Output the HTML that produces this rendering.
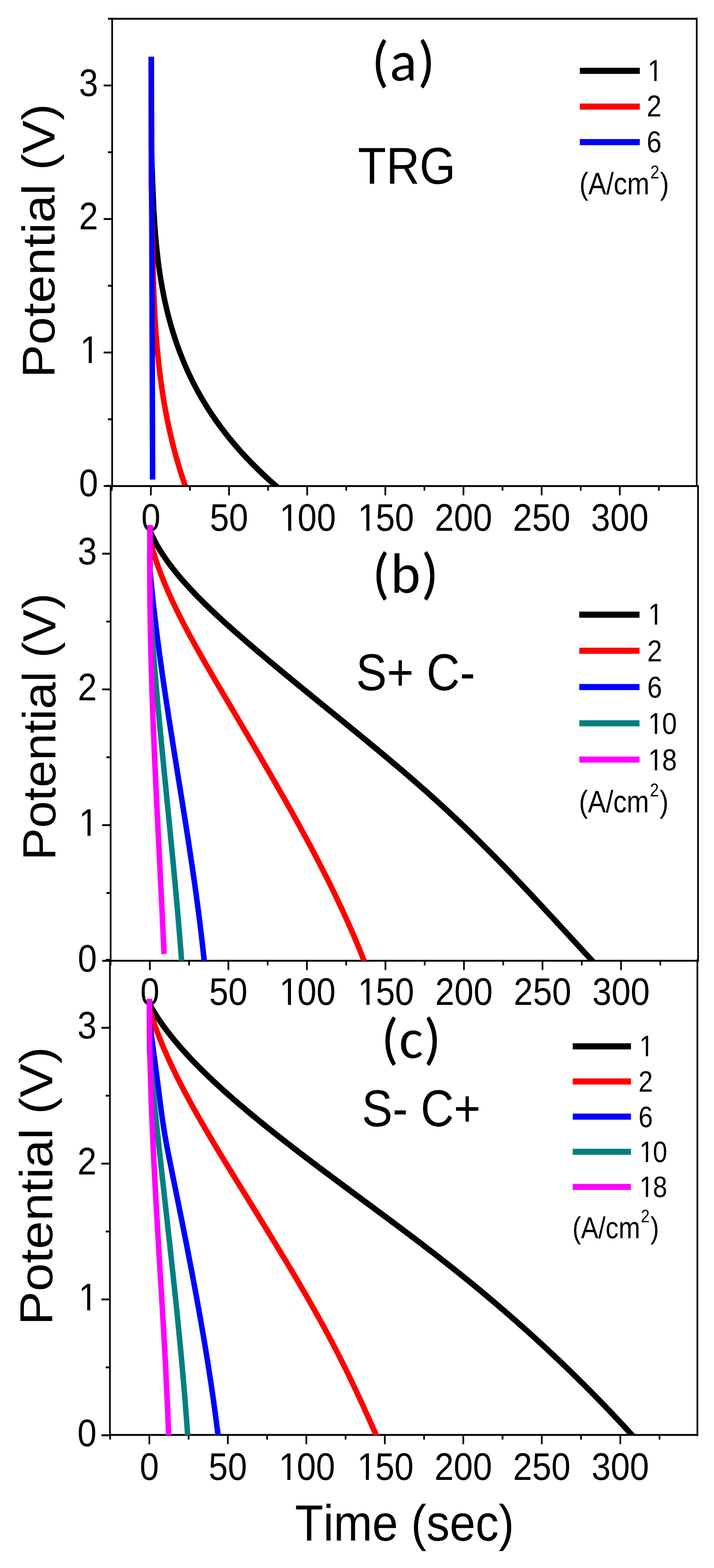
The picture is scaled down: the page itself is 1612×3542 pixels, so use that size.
<!DOCTYPE html><html><head><meta charset="utf-8"><title>Galvanostatic discharge curves</title><style>html,body{margin:0;padding:0;background:#fff;}svg{display:block;}text{font-family:"Liberation Sans",Arial,Helvetica,sans-serif;fill:#000;font-kerning:none;text-rendering:geometricPrecision;}.cal{font-family:Carlito,Calibri,"Liberation Sans",sans-serif;}</style></head><body>
<svg width="1612" height="3542" viewBox="0 0 1612 3542">
<rect width="1612" height="3542" fill="#fff"/>
<g fill="#000">
<rect x="251.30" y="40.30" width="3.8" height="1059.80"/>
<rect x="1571.10" y="40.30" width="3.8" height="1059.80"/>
<rect x="251.30" y="40.30" width="1323.60" height="4.2"/>
<rect x="251.30" y="1095.90" width="1323.60" height="4.2"/>
<rect x="234.00" y="1095.80" width="19.20" height="4.2"/>
<rect x="243.70" y="945.00" width="9.50" height="4.2"/>
<rect x="234.00" y="794.20" width="19.20" height="4.2"/>
<rect x="243.70" y="643.40" width="9.50" height="4.2"/>
<rect x="234.00" y="492.60" width="19.20" height="4.2"/>
<rect x="243.70" y="341.80" width="9.50" height="4.2"/>
<rect x="234.00" y="191.00" width="19.20" height="4.2"/>
<rect x="243.70" y="40.20" width="9.50" height="4.2"/>
<rect x="250.48" y="1098.00" width="3.8" height="10.50"/>
<rect x="338.70" y="1098.00" width="3.8" height="21.00"/>
<rect x="426.93" y="1098.00" width="3.8" height="10.50"/>
<rect x="515.15" y="1098.00" width="3.8" height="21.00"/>
<rect x="603.38" y="1098.00" width="3.8" height="10.50"/>
<rect x="691.60" y="1098.00" width="3.8" height="21.00"/>
<rect x="779.83" y="1098.00" width="3.8" height="10.50"/>
<rect x="868.05" y="1098.00" width="3.8" height="21.00"/>
<rect x="956.27" y="1098.00" width="3.8" height="10.50"/>
<rect x="1044.50" y="1098.00" width="3.8" height="21.00"/>
<rect x="1132.72" y="1098.00" width="3.8" height="10.50"/>
<rect x="1220.95" y="1098.00" width="3.8" height="21.00"/>
<rect x="1309.17" y="1098.00" width="3.8" height="10.50"/>
<rect x="1397.40" y="1098.00" width="3.8" height="21.00"/>
<rect x="1485.62" y="1098.00" width="3.8" height="10.50"/>
<rect x="247.90" y="1095.80" width="3.8" height="1076.60"/>
<rect x="1574.10" y="1095.80" width="3.8" height="1076.60"/>
<rect x="247.90" y="2168.20" width="1330.00" height="4.2"/>
<rect x="230.60" y="2168.40" width="19.20" height="4.2"/>
<rect x="240.30" y="2015.10" width="9.50" height="4.2"/>
<rect x="230.60" y="1861.80" width="19.20" height="4.2"/>
<rect x="240.30" y="1708.50" width="9.50" height="4.2"/>
<rect x="230.60" y="1555.20" width="19.20" height="4.2"/>
<rect x="240.30" y="1401.90" width="9.50" height="4.2"/>
<rect x="230.60" y="1248.60" width="19.20" height="4.2"/>
<rect x="240.30" y="1095.30" width="9.50" height="4.2"/>
<rect x="247.75" y="2170.30" width="3.8" height="10.50"/>
<rect x="336.40" y="2170.30" width="3.8" height="21.00"/>
<rect x="425.05" y="2170.30" width="3.8" height="10.50"/>
<rect x="513.70" y="2170.30" width="3.8" height="21.00"/>
<rect x="602.35" y="2170.30" width="3.8" height="10.50"/>
<rect x="691.00" y="2170.30" width="3.8" height="21.00"/>
<rect x="779.65" y="2170.30" width="3.8" height="10.50"/>
<rect x="868.30" y="2170.30" width="3.8" height="21.00"/>
<rect x="956.95" y="2170.30" width="3.8" height="10.50"/>
<rect x="1045.60" y="2170.30" width="3.8" height="21.00"/>
<rect x="1134.25" y="2170.30" width="3.8" height="10.50"/>
<rect x="1222.90" y="2170.30" width="3.8" height="21.00"/>
<rect x="1311.55" y="2170.30" width="3.8" height="10.50"/>
<rect x="1400.20" y="2170.30" width="3.8" height="21.00"/>
<rect x="1488.85" y="2170.30" width="3.8" height="10.50"/>
<rect x="246.30" y="2166.90" width="3.8" height="1076.60"/>
<rect x="1572.60" y="2166.90" width="3.8" height="1076.60"/>
<rect x="246.30" y="3239.30" width="1330.10" height="4.2"/>
<rect x="229.00" y="3240.10" width="19.20" height="4.2"/>
<rect x="238.70" y="3086.67" width="9.50" height="4.2"/>
<rect x="229.00" y="2933.25" width="19.20" height="4.2"/>
<rect x="238.70" y="2779.82" width="9.50" height="4.2"/>
<rect x="229.00" y="2626.40" width="19.20" height="4.2"/>
<rect x="238.70" y="2472.97" width="9.50" height="4.2"/>
<rect x="229.00" y="2319.55" width="19.20" height="4.2"/>
<rect x="238.70" y="2166.12" width="9.50" height="4.2"/>
<rect x="246.70" y="3241.40" width="3.8" height="10.50"/>
<rect x="335.30" y="3241.40" width="3.8" height="21.00"/>
<rect x="423.90" y="3241.40" width="3.8" height="10.50"/>
<rect x="512.50" y="3241.40" width="3.8" height="21.00"/>
<rect x="601.10" y="3241.40" width="3.8" height="10.50"/>
<rect x="689.70" y="3241.40" width="3.8" height="21.00"/>
<rect x="778.30" y="3241.40" width="3.8" height="10.50"/>
<rect x="866.90" y="3241.40" width="3.8" height="21.00"/>
<rect x="955.50" y="3241.40" width="3.8" height="10.50"/>
<rect x="1044.10" y="3241.40" width="3.8" height="21.00"/>
<rect x="1132.70" y="3241.40" width="3.8" height="10.50"/>
<rect x="1221.30" y="3241.40" width="3.8" height="21.00"/>
<rect x="1309.90" y="3241.40" width="3.8" height="10.50"/>
<rect x="1398.50" y="3241.40" width="3.8" height="21.00"/>
<rect x="1487.10" y="3241.40" width="3.8" height="10.50"/>
</g>
<text transform="translate(340.60,1198.50) scale(0.8950,1)" font-size="87" text-anchor="middle">0</text>
<text transform="translate(517.05,1198.50) scale(0.8950,1)" font-size="87" text-anchor="middle">50</text>
<text transform="translate(628.54,1198.50) scale(0.8950,1)" font-size="87" dx="2.85 -2.85 0.00">100</text>
<rect x="636.19" y="1190.40" width="14.48" height="9.30" fill="#fff"/>
<rect x="657.55" y="1190.40" width="13.87" height="9.30" fill="#fff"/>
<text transform="translate(804.99,1198.50) scale(0.8950,1)" font-size="87" dx="2.85 -2.85 0.00">150</text>
<rect x="812.64" y="1190.40" width="14.48" height="9.30" fill="#fff"/>
<rect x="834.00" y="1190.40" width="13.87" height="9.30" fill="#fff"/>
<text transform="translate(1046.40,1198.50) scale(0.8950,1)" font-size="87" text-anchor="middle">200</text>
<text transform="translate(1222.85,1198.50) scale(0.8950,1)" font-size="87" text-anchor="middle">250</text>
<text transform="translate(1399.30,1198.50) scale(0.8950,1)" font-size="87" text-anchor="middle">300</text>
<text transform="translate(221.50,1121.40) scale(0.8950,1)" font-size="87" text-anchor="end">0</text>
<text transform="translate(178.20,819.80) scale(0.8950,1)" font-size="87" dx="2.85">1</text>
<rect x="185.85" y="811.70" width="14.48" height="9.30" fill="#fff"/>
<rect x="207.20" y="811.70" width="13.87" height="9.30" fill="#fff"/>
<text transform="translate(221.50,518.20) scale(0.8950,1)" font-size="87" text-anchor="end">2</text>
<text transform="translate(221.50,216.60) scale(0.8950,1)" font-size="87" text-anchor="end">3</text>
<text transform="translate(338.30,2270.30) scale(0.8950,1)" font-size="87" text-anchor="middle">0</text>
<text transform="translate(515.60,2270.30) scale(0.8950,1)" font-size="87" text-anchor="middle">50</text>
<text transform="translate(627.94,2270.30) scale(0.8950,1)" font-size="87" dx="2.85 -2.85 0.00">100</text>
<rect x="635.59" y="2262.20" width="14.48" height="9.30" fill="#fff"/>
<rect x="656.95" y="2262.20" width="13.87" height="9.30" fill="#fff"/>
<text transform="translate(805.24,2270.30) scale(0.8950,1)" font-size="87" dx="2.85 -2.85 0.00">150</text>
<rect x="812.89" y="2262.20" width="14.48" height="9.30" fill="#fff"/>
<rect x="834.25" y="2262.20" width="13.87" height="9.30" fill="#fff"/>
<text transform="translate(1047.50,2270.30) scale(0.8950,1)" font-size="87" text-anchor="middle">200</text>
<text transform="translate(1224.80,2270.30) scale(0.8950,1)" font-size="87" text-anchor="middle">250</text>
<text transform="translate(1402.10,2270.30) scale(0.8950,1)" font-size="87" text-anchor="middle">300</text>
<text transform="translate(218.70,2195.00) scale(0.8950,1)" font-size="87" text-anchor="end">0</text>
<text transform="translate(175.40,1888.40) scale(0.8950,1)" font-size="87" dx="2.85">1</text>
<rect x="183.05" y="1880.30" width="14.48" height="9.30" fill="#fff"/>
<rect x="204.40" y="1880.30" width="13.87" height="9.30" fill="#fff"/>
<text transform="translate(218.70,1581.80) scale(0.8950,1)" font-size="87" text-anchor="end">2</text>
<text transform="translate(218.70,1275.20) scale(0.8950,1)" font-size="87" text-anchor="end">3</text>
<text transform="translate(337.20,3343.00) scale(0.8950,1)" font-size="87" text-anchor="middle">0</text>
<text transform="translate(514.40,3343.00) scale(0.8950,1)" font-size="87" text-anchor="middle">50</text>
<text transform="translate(626.64,3343.00) scale(0.8950,1)" font-size="87" dx="2.85 -2.85 0.00">100</text>
<rect x="634.29" y="3334.90" width="14.48" height="9.30" fill="#fff"/>
<rect x="655.65" y="3334.90" width="13.87" height="9.30" fill="#fff"/>
<text transform="translate(803.84,3343.00) scale(0.8950,1)" font-size="87" dx="2.85 -2.85 0.00">150</text>
<rect x="811.49" y="3334.90" width="14.48" height="9.30" fill="#fff"/>
<rect x="832.85" y="3334.90" width="13.87" height="9.30" fill="#fff"/>
<text transform="translate(1046.00,3343.00) scale(0.8950,1)" font-size="87" text-anchor="middle">200</text>
<text transform="translate(1223.20,3343.00) scale(0.8950,1)" font-size="87" text-anchor="middle">250</text>
<text transform="translate(1400.40,3343.00) scale(0.8950,1)" font-size="87" text-anchor="middle">300</text>
<text transform="translate(218.00,3266.50) scale(0.8950,1)" font-size="87" text-anchor="end">0</text>
<text transform="translate(174.70,2959.65) scale(0.8950,1)" font-size="87" dx="2.85">1</text>
<rect x="182.35" y="2951.55" width="14.48" height="9.30" fill="#fff"/>
<rect x="203.70" y="2951.55" width="13.87" height="9.30" fill="#fff"/>
<text transform="translate(218.00,2652.80) scale(0.8950,1)" font-size="87" text-anchor="end">2</text>
<text transform="translate(218.00,2345.95) scale(0.8950,1)" font-size="87" text-anchor="end">3</text>
<text transform="translate(123.30,853.40) rotate(-90) scale(1.0866,1)" font-size="103.5" text-anchor="start">Potential (V)</text>
<text transform="translate(125.40,1943.40) rotate(-90) scale(1.0443,1)" font-size="105.0" text-anchor="start">Potential (V)</text>
<text transform="translate(118.40,2993.30) rotate(-90) scale(1.0930,1)" font-size="104.5" text-anchor="start">Potential (V)</text>
<text transform="translate(666.00,3480.00) scale(0.9110,1)" font-size="115.0" text-anchor="start">Time (sec)</text>
<text class="cal" x="911.5" y="182" font-size="128.5" letter-spacing="1.9" textLength="145.19" lengthAdjust="spacingAndGlyphs" text-anchor="middle">(a)</text>
<text class="cal" x="916.5" y="1338.6" font-size="128.5" letter-spacing="2.2" textLength="152.05" lengthAdjust="spacingAndGlyphs" text-anchor="middle">(b)</text>
<text class="cal" x="929" y="2390.3" font-size="128.5" letter-spacing="1.4" textLength="136.47" lengthAdjust="spacingAndGlyphs" text-anchor="middle">(c)</text>
<text transform="translate(918.30,415.00) scale(0.8925,1)" font-size="117" text-anchor="middle">TRG</text>
<text transform="translate(938.30,1559.00) scale(0.8900,1)" font-size="117" text-anchor="middle">S+ C-</text>
<text transform="translate(951.10,2544.00) scale(0.8868,1)" font-size="117" text-anchor="middle">S- C+</text>
<rect x="1309.0" y="153.1" width="135.5" height="13.8" fill="#000000"/>
<rect x="1309.0" y="233.9" width="135.5" height="13.8" fill="#ff0000"/>
<rect x="1309.0" y="314.1" width="135.5" height="13.8" fill="#0000ff"/>
<text transform="translate(1460.00,183.00) scale(0.8800,1)" font-size="68.5" dx="2.24">1</text>
<rect x="1465.79" y="176.28" width="11.34" height="7.92" fill="#fff"/>
<rect x="1482.46" y="176.28" width="10.87" height="7.92" fill="#fff"/>
<text transform="translate(1460.00,263.00) scale(0.8800,1)" font-size="68.5" text-anchor="start">2</text>
<text transform="translate(1460.00,344.00) scale(0.8800,1)" font-size="68.5" text-anchor="start">6</text>
<text transform="translate(1308.00,439.00) scale(0.8668,1)" font-size="70.0" text-anchor="start">(A/cm<tspan dx="2" dy="-36.0" font-size="42.0">2</tspan><tspan dx="2" dy="36.0">)</tspan></text>
<rect x="1307.8" y="1381.6" width="136.0" height="13.8" fill="#000000"/>
<rect x="1307.8" y="1463.1" width="136.0" height="13.8" fill="#ff0000"/>
<rect x="1307.8" y="1545.1" width="136.0" height="13.8" fill="#0000ff"/>
<rect x="1307.8" y="1627.0" width="136.0" height="13.8" fill="#008080"/>
<rect x="1307.8" y="1708.9" width="136.0" height="13.8" fill="#ff00ff"/>
<text transform="translate(1461.20,1410.90) scale(0.8800,1)" font-size="68.5" dx="2.24">1</text>
<rect x="1466.99" y="1404.18" width="11.34" height="7.92" fill="#fff"/>
<rect x="1483.66" y="1404.18" width="10.87" height="7.92" fill="#fff"/>
<text transform="translate(1461.20,1494.00) scale(0.8800,1)" font-size="68.5" text-anchor="start">2</text>
<text transform="translate(1461.20,1576.00) scale(0.8800,1)" font-size="68.5" text-anchor="start">6</text>
<text transform="translate(1461.20,1657.90) scale(0.8800,1)" font-size="68.5" dx="2.24 -2.24">10</text>
<rect x="1466.99" y="1651.18" width="11.34" height="7.92" fill="#fff"/>
<rect x="1483.66" y="1651.18" width="10.87" height="7.92" fill="#fff"/>
<text transform="translate(1461.20,1739.80) scale(0.8800,1)" font-size="68.5" dx="2.24 -2.24">18</text>
<rect x="1466.99" y="1733.08" width="11.34" height="7.92" fill="#fff"/>
<rect x="1483.66" y="1733.08" width="10.87" height="7.92" fill="#fff"/>
<text transform="translate(1307.00,1834.50) scale(0.8668,1)" font-size="70.0" text-anchor="start">(A/cm<tspan dx="2" dy="-36.0" font-size="42.0">2</tspan><tspan dx="2" dy="36.0">)</tspan></text>
<rect x="1293.0" y="2356.7" width="131.5" height="13.8" fill="#000000"/>
<rect x="1293.0" y="2436.1" width="131.5" height="13.8" fill="#ff0000"/>
<rect x="1293.0" y="2515.5" width="131.5" height="13.8" fill="#0000ff"/>
<rect x="1293.0" y="2594.9" width="131.5" height="13.8" fill="#008080"/>
<rect x="1293.0" y="2674.3" width="131.5" height="13.8" fill="#ff00ff"/>
<text transform="translate(1441.50,2385.70) scale(0.8728,1)" font-size="66.79" dx="2.19">1</text>
<rect x="1447.08" y="2379.11" width="10.99" height="7.79" fill="#fff"/>
<rect x="1463.22" y="2379.11" width="10.53" height="7.79" fill="#fff"/>
<text transform="translate(1441.50,2466.40) scale(0.8728,1)" font-size="66.79" text-anchor="start">2</text>
<text transform="translate(1441.50,2545.70) scale(0.8728,1)" font-size="66.79" text-anchor="start">6</text>
<text transform="translate(1441.50,2625.00) scale(0.8728,1)" font-size="66.79" dx="2.19 -2.19">10</text>
<rect x="1447.08" y="2618.41" width="10.99" height="7.79" fill="#fff"/>
<rect x="1463.22" y="2618.41" width="10.53" height="7.79" fill="#fff"/>
<text transform="translate(1441.50,2704.40) scale(0.8728,1)" font-size="66.79" dx="2.19 -2.19">18</text>
<rect x="1447.08" y="2697.81" width="10.99" height="7.79" fill="#fff"/>
<rect x="1463.22" y="2697.81" width="10.53" height="7.79" fill="#fff"/>
<text transform="translate(1292.20,2796.50) scale(0.8597,1)" font-size="68.25" text-anchor="start">(A/cm<tspan dx="2" dy="-35.1" font-size="40.9">2</tspan><tspan dx="2" dy="35.1">)</tspan></text>
<defs><clipPath id="ca"><rect x="0" y="0" width="1612" height="1096.6"/></clipPath><clipPath id="cb"><rect x="0" y="1100" width="1612" height="1070.4"/></clipPath><clipPath id="cc"><rect x="0" y="2172" width="1612" height="1070.2"/></clipPath></defs>
<g clip-path="url(#ca)"><g transform="scale(1 1.1)" fill="none" stroke-width="12.4" stroke-linejoin="round" stroke-linecap="butt">
<path d="M341.6 116.4 L341.6 300.0 L341.6 301.8 L341.7 303.6 L341.8 305.5 L341.9 307.3 L341.9 309.1 L342.0 310.9 L342.1 312.7 L342.2 314.5 L342.2 316.4 L342.3 318.2 L342.4 320.0 L342.5 321.8 L342.5 323.6 L342.6 325.5 L342.7 327.3 L342.7 329.1 L342.8 330.9 L342.9 332.7 L342.9 334.5 L343.0 336.4 L343.1 338.2 L343.1 340.0 L343.2 341.8 L343.3 343.6 L343.4 345.5 L343.4 347.3 L343.5 349.1 L343.6 350.9 L343.6 352.7 L343.7 354.5 L343.8 356.4 L343.8 358.2 L343.9 360.0 L344.0 361.8 L344.1 363.6 L344.1 365.5 L344.2 367.3 L344.3 369.1 L344.4 370.9 L344.4 372.7 L344.5 374.5 L344.6 376.4 L344.6 378.2 L344.7 380.0 L344.8 381.8 L344.9 383.6 L345.0 385.5 L345.0 387.3 L345.1 389.1 L345.2 390.9 L345.3 392.7 L345.4 394.5 L345.4 396.4 L345.5 398.2 L345.6 400.0 L345.7 401.8 L345.8 403.6 L345.9 405.5 L346.0 407.3 L346.1 409.1 L346.2 410.9 L346.2 412.7 L346.3 414.5 L346.4 416.4 L346.5 418.2 L346.6 420.0 L346.7 421.8 L346.8 423.6 L346.9 425.5 L347.0 427.3 L347.1 429.1 L347.2 430.9 L347.4 432.7 L347.5 434.5 L347.6 436.4 L347.7 438.2 L347.8 440.0 L347.9 441.8 L348.0 443.6 L348.2 445.5 L348.3 447.3 L348.4 449.1 L348.5 450.9 L348.7 452.7 L348.8 454.5 L348.9 456.4 L349.1 458.2 L349.2 460.0 L349.3 461.8 L349.5 463.6 L349.6 465.5 L349.8 467.3 L349.9 469.1 L350.0 470.9 L350.2 472.7 L350.4 474.5 L350.5 476.4 L350.7 478.2 L350.8 480.0 L351.0 481.8 L351.2 483.6 L351.3 485.5 L351.5 487.3 L351.7 489.1 L351.8 490.9 L352.0 492.7 L352.2 494.5 L352.4 496.4 L352.6 498.2 L352.7 500.0 L352.9 501.8 L353.1 503.6 L353.3 505.5 L353.5 507.3 L353.7 509.1 L353.9 510.9 L354.1 512.7 L354.3 514.5 L354.6 516.4 L354.8 518.2 L355.0 520.0 L355.2 521.8 L355.4 523.6 L355.7 525.5 L355.9 527.3 L356.1 529.1 L356.4 530.9 L356.6 532.7 L356.9 534.5 L357.1 536.4 L357.4 538.2 L357.6 540.0 L357.9 541.8 L358.1 543.6 L358.4 545.5 L358.7 547.3 L358.9 549.1 L359.2 550.9 L359.5 552.7 L359.8 554.5 L360.1 556.4 L360.4 558.2 L360.6 560.0 L360.9 561.8 L361.2 563.6 L361.6 565.5 L361.9 567.3 L362.2 569.1 L362.5 570.9 L362.8 572.7 L363.1 574.5 L363.5 576.4 L363.8 578.2 L364.1 580.0 L364.5 581.8 L364.8 583.6 L365.2 585.5 L365.5 587.3 L365.9 589.1 L366.2 590.9 L366.6 592.7 L367.0 594.5 L367.4 596.4 L367.7 598.2 L368.1 600.0 L368.5 601.8 L368.9 603.6 L369.3 605.5 L369.7 607.3 L370.1 609.1 L370.5 610.9 L370.9 612.7 L371.3 614.5 L371.8 616.4 L372.2 618.2 L372.6 620.0 L373.1 621.8 L373.5 623.6 L374.0 625.5 L374.4 627.3 L374.9 629.1 L375.3 630.9 L375.8 632.7 L376.3 634.5 L376.7 636.4 L377.2 638.2 L377.7 640.0 L378.2 641.8 L378.7 643.6 L379.2 645.5 L379.7 647.3 L380.2 649.1 L380.8 650.9 L381.3 652.7 L381.8 654.5 L382.3 656.4 L382.9 658.2 L383.4 660.0 L384.0 661.8 L384.5 663.6 L385.1 665.5 L385.7 667.3 L386.2 669.1 L386.8 670.9 L387.4 672.7 L388.0 674.5 L388.6 676.4 L389.2 678.2 L389.8 680.0 L390.4 681.8 L391.0 683.6 L391.7 685.5 L392.3 687.3 L392.9 689.1 L393.6 690.9 L394.2 692.7 L394.9 694.5 L395.5 696.4 L396.2 698.2 L396.9 700.0 L397.6 701.8 L398.2 703.6 L398.9 705.5 L399.6 707.3 L400.3 709.1 L401.0 710.9 L401.8 712.7 L402.5 714.5 L403.2 716.4 L403.9 718.2 L404.7 720.0 L405.4 721.8 L406.2 723.6 L407.0 725.5 L407.7 727.3 L408.5 729.1 L409.3 730.9 L410.1 732.7 L410.9 734.5 L411.7 736.4 L412.5 738.2 L413.3 740.0 L414.1 741.8 L414.9 743.6 L415.8 745.5 L416.6 747.3 L417.5 749.1 L418.3 750.9 L419.2 752.7 L420.1 754.5 L421.0 756.4 L421.8 758.2 L422.7 760.0 L423.6 761.8 L424.5 763.6 L425.5 765.5 L426.4 767.3 L427.3 769.1 L428.3 770.9 L429.2 772.7 L430.2 774.5 L431.1 776.4 L432.1 778.2 L433.1 780.0 L434.1 781.8 L435.1 783.6 L436.1 785.5 L437.1 787.3 L438.1 789.1 L439.2 790.9 L440.2 792.7 L441.2 794.5 L442.3 796.4 L443.4 798.2 L444.4 800.0 L445.5 801.8 L446.6 803.6 L447.7 805.5 L448.8 807.3 L449.9 809.1 L451.1 810.9 L452.2 812.7 L453.3 814.5 L454.5 816.4 L455.6 818.2 L456.8 820.0 L458.0 821.8 L459.2 823.6 L460.4 825.5 L461.6 827.3 L462.8 829.1 L464.0 830.9 L465.3 832.7 L466.5 834.5 L467.8 836.4 L469.0 838.2 L470.3 840.0 L471.6 841.8 L472.9 843.6 L474.2 845.5 L475.5 847.3 L476.8 849.1 L478.1 850.9 L479.5 852.7 L480.8 854.5 L482.2 856.4 L483.6 858.2 L484.9 860.0 L486.3 861.8 L487.7 863.6 L489.1 865.5 L490.6 867.3 L492.0 869.1 L493.4 870.9 L494.9 872.7 L496.4 874.5 L497.8 876.4 L499.3 878.2 L500.8 880.0 L502.3 881.8 L503.8 883.6 L505.4 885.5 L506.9 887.3 L508.5 889.1 L510.0 890.9 L511.6 892.7 L513.2 894.5 L514.8 896.4 L516.4 898.2 L518.0 900.0 L519.6 901.8 L521.3 903.6 L522.9 905.5 L524.6 907.3 L526.2 909.1 L527.9 910.9 L529.6 912.7 L531.3 914.5 L533.1 916.4 L534.8 918.2 L536.5 920.0 L538.3 921.8 L540.0 923.6 L541.8 925.5 L543.6 927.3 L545.4 929.1 L547.2 930.9 L549.1 932.7 L550.9 934.5 L552.7 936.4 L554.6 938.2 L556.5 940.0 L558.4 941.8 L560.3 943.6 L562.2 945.5 L564.1 947.3 L566.0 949.1 L568.0 950.9 L570.0 952.7 L571.9 954.5 L573.9 956.4 L575.9 958.2 L577.9 960.0 L579.9 961.8 L582.0 963.6 L584.0 965.5 L586.1 967.3 L588.2 969.1 L590.3 970.9 L592.4 972.7 L594.5 974.5 L596.6 976.4 L598.8 978.2 L600.9 980.0 L603.1 981.8 L605.3 983.6 L607.5 985.5 L609.7 987.3 L611.9 989.1 L614.1 990.9 L616.4 992.7 L618.6 994.5 L620.9 996.4 L629.9 1003.6" stroke="#000000"/>
<path d="M341.6 116.4 L341.6 381.8 L341.6 383.6 L341.7 385.5 L341.8 387.3 L341.8 389.1 L341.9 390.9 L341.9 392.7 L342.0 394.5 L342.0 396.4 L342.1 398.2 L342.1 400.0 L342.2 401.8 L342.2 403.6 L342.3 405.5 L342.3 407.3 L342.3 409.1 L342.4 410.9 L342.4 412.7 L342.5 414.5 L342.5 416.4 L342.6 418.2 L342.6 420.0 L342.7 421.8 L342.7 423.6 L342.7 425.5 L342.8 427.3 L342.8 429.1 L342.9 430.9 L342.9 432.7 L342.9 434.5 L343.0 436.4 L343.0 438.2 L343.1 440.0 L343.1 441.8 L343.1 443.6 L343.2 445.5 L343.2 447.3 L343.2 449.1 L343.3 450.9 L343.3 452.7 L343.4 454.5 L343.4 456.4 L343.4 458.2 L343.5 460.0 L343.5 461.8 L343.5 463.6 L343.6 465.5 L343.6 467.3 L343.7 469.1 L343.7 470.9 L343.7 472.7 L343.8 474.5 L343.8 476.4 L343.8 478.2 L343.9 480.0 L343.9 481.8 L343.9 483.6 L344.0 485.5 L344.0 487.3 L344.1 489.1 L344.1 490.9 L344.1 492.7 L344.2 494.5 L344.2 496.4 L344.2 498.2 L344.3 500.0 L344.3 501.8 L344.4 503.6 L344.4 505.5 L344.4 507.3 L344.5 509.1 L344.5 510.9 L344.6 512.7 L344.6 514.5 L344.6 516.4 L344.7 518.2 L344.7 520.0 L344.8 521.8 L344.8 523.6 L344.9 525.5 L344.9 527.3 L344.9 529.1 L345.0 530.9 L345.0 532.7 L345.1 534.5 L345.1 536.4 L345.2 538.2 L345.2 540.0 L345.3 541.8 L345.3 543.6 L345.4 545.5 L345.4 547.3 L345.5 549.1 L345.5 550.9 L345.6 552.7 L345.6 554.5 L345.7 556.4 L345.7 558.2 L345.8 560.0 L345.8 561.8 L345.9 563.6 L345.9 565.5 L346.0 567.3 L346.1 569.1 L346.1 570.9 L346.2 572.7 L346.2 574.5 L346.3 576.4 L346.4 578.2 L346.4 580.0 L346.5 581.8 L346.6 583.6 L346.6 585.5 L346.7 587.3 L346.8 589.1 L346.8 590.9 L346.9 592.7 L347.0 594.5 L347.1 596.4 L347.1 598.2 L347.2 600.0 L347.3 601.8 L347.4 603.6 L347.4 605.5 L347.5 607.3 L347.6 609.1 L347.7 610.9 L347.8 612.7 L347.9 614.5 L347.9 616.4 L348.0 618.2 L348.1 620.0 L348.2 621.8 L348.3 623.6 L348.4 625.5 L348.5 627.3 L348.6 629.1 L348.7 630.9 L348.8 632.7 L348.9 634.5 L349.0 636.4 L349.1 638.2 L349.2 640.0 L349.3 641.8 L349.4 643.6 L349.5 645.5 L349.6 647.3 L349.7 649.1 L349.8 650.9 L349.9 652.7 L350.1 654.5 L350.2 656.4 L350.3 658.2 L350.4 660.0 L350.5 661.8 L350.7 663.6 L350.8 665.5 L350.9 667.3 L351.1 669.1 L351.2 670.9 L351.3 672.7 L351.4 674.5 L351.6 676.4 L351.7 678.2 L351.9 680.0 L352.0 681.8 L352.1 683.6 L352.3 685.5 L352.4 687.3 L352.6 689.1 L352.7 690.9 L352.9 692.7 L353.0 694.5 L353.2 696.4 L353.4 698.2 L353.5 700.0 L353.7 701.8 L353.9 703.6 L354.0 705.5 L354.2 707.3 L354.4 709.1 L354.5 710.9 L354.7 712.7 L354.9 714.5 L355.1 716.4 L355.2 718.2 L355.4 720.0 L355.6 721.8 L355.8 723.6 L356.0 725.5 L356.2 727.3 L356.4 729.1 L356.6 730.9 L356.8 732.7 L357.0 734.5 L357.2 736.4 L357.4 738.2 L357.6 740.0 L357.8 741.8 L358.0 743.6 L358.2 745.5 L358.4 747.3 L358.7 749.1 L358.9 750.9 L359.1 752.7 L359.3 754.5 L359.6 756.4 L359.8 758.2 L360.0 760.0 L360.3 761.8 L360.5 763.6 L360.8 765.5 L361.0 767.3 L361.2 769.1 L361.5 770.9 L361.7 772.7 L362.0 774.5 L362.3 776.4 L362.5 778.2 L362.8 780.0 L363.0 781.8 L363.3 783.6 L363.6 785.5 L363.9 787.3 L364.1 789.1 L364.4 790.9 L364.7 792.7 L365.0 794.5 L365.3 796.4 L365.6 798.2 L365.9 800.0 L366.2 801.8 L366.5 803.6 L366.8 805.5 L367.1 807.3 L367.4 809.1 L367.7 810.9 L368.0 812.7 L368.3 814.5 L368.6 816.4 L369.0 818.2 L369.3 820.0 L369.6 821.8 L369.9 823.6 L370.3 825.5 L370.6 827.3 L371.0 829.1 L371.3 830.9 L371.6 832.7 L372.0 834.5 L372.4 836.4 L372.7 838.2 L373.1 840.0 L373.4 841.8 L373.8 843.6 L374.2 845.5 L374.5 847.3 L374.9 849.1 L375.3 850.9 L375.7 852.7 L376.1 854.5 L376.5 856.4 L376.9 858.2 L377.2 860.0 L377.6 861.8 L378.1 863.6 L378.5 865.5 L378.9 867.3 L379.3 869.1 L379.7 870.9 L380.1 872.7 L380.5 874.5 L381.0 876.4 L381.4 878.2 L381.8 880.0 L382.3 881.8 L382.7 883.6 L383.2 885.5 L383.6 887.3 L384.1 889.1 L384.5 890.9 L385.0 892.7 L385.4 894.5 L385.9 896.4 L386.4 898.2 L386.9 900.0 L387.3 901.8 L387.8 903.6 L388.3 905.5 L388.8 907.3 L389.3 909.1 L389.8 910.9 L390.3 912.7 L390.8 914.5 L391.3 916.4 L391.8 918.2 L392.3 920.0 L392.8 921.8 L393.4 923.6 L393.9 925.5 L394.4 927.3 L395.0 929.1 L395.5 930.9 L396.0 932.7 L396.6 934.5 L397.1 936.4 L397.7 938.2 L398.3 940.0 L398.8 941.8 L399.4 943.6 L400.0 945.5 L400.5 947.3 L401.1 949.1 L401.7 950.9 L402.3 952.7 L402.9 954.5 L403.5 956.4 L404.1 958.2 L404.7 960.0 L405.3 961.8 L405.9 963.6 L406.5 965.5 L407.2 967.3 L407.8 969.1 L408.4 970.9 L409.1 972.7 L409.7 974.5 L410.4 976.4 L411.0 978.2 L411.7 980.0 L412.3 981.8 L413.0 983.6 L413.6 985.5 L414.3 987.3 L415.0 989.1 L415.7 990.9 L416.4 992.7 L417.0 994.5 L417.6 995.9 L421.5 1006.2" stroke="#ff0000"/>
<path d="M341.7 116.4 L344.5 984.9" stroke="#0000ff"/>
</g></g>
<g clip-path="url(#cb)"><g transform="scale(1 1.1)" fill="none" stroke-width="12.4" stroke-linejoin="round" stroke-linecap="butt">
<path d="M338.9 1078.2 L338.8 1090.0 L339.6 1091.8 L340.5 1093.6 L341.3 1095.5 L342.2 1097.3 L343.1 1099.1 L344.0 1100.9 L345.0 1102.7 L345.9 1104.5 L346.9 1106.4 L347.9 1108.2 L348.9 1110.0 L350.0 1111.8 L351.0 1113.6 L352.1 1115.5 L353.2 1117.3 L354.3 1119.1 L355.4 1120.9 L356.6 1122.7 L357.8 1124.5 L358.9 1126.4 L360.1 1128.2 L361.4 1130.0 L362.6 1131.8 L363.9 1133.6 L365.1 1135.5 L366.4 1137.3 L367.7 1139.1 L369.0 1140.9 L370.4 1142.7 L371.7 1144.5 L373.1 1146.4 L374.5 1148.2 L375.9 1150.0 L377.3 1151.8 L378.7 1153.6 L380.2 1155.5 L381.7 1157.3 L383.1 1159.1 L384.6 1160.9 L386.2 1162.7 L387.7 1164.5 L389.2 1166.4 L390.8 1168.2 L392.3 1170.0 L393.9 1171.8 L395.5 1173.6 L397.1 1175.5 L398.8 1177.3 L400.4 1179.1 L402.1 1180.9 L403.7 1182.7 L405.4 1184.5 L407.1 1186.4 L408.8 1188.2 L410.6 1190.0 L412.3 1191.8 L414.0 1193.6 L415.8 1195.5 L417.6 1197.3 L419.4 1199.1 L421.2 1200.9 L423.0 1202.7 L424.8 1204.5 L426.6 1206.4 L428.5 1208.2 L430.4 1210.0 L432.2 1211.8 L434.1 1213.6 L436.0 1215.5 L437.9 1217.3 L439.8 1219.1 L441.7 1220.9 L443.7 1222.7 L445.6 1224.5 L447.6 1226.4 L449.6 1228.2 L451.5 1230.0 L453.5 1231.8 L455.5 1233.6 L457.5 1235.5 L459.6 1237.3 L461.6 1239.1 L463.6 1240.9 L465.7 1242.7 L467.7 1244.5 L469.8 1246.4 L471.9 1248.2 L474.0 1250.0 L476.0 1251.8 L478.1 1253.6 L480.3 1255.5 L482.4 1257.3 L484.5 1259.1 L486.6 1260.9 L488.8 1262.7 L490.9 1264.5 L493.1 1266.4 L495.2 1268.2 L497.4 1270.0 L499.6 1271.8 L501.8 1273.6 L504.0 1275.5 L506.2 1277.3 L508.4 1279.1 L510.6 1280.9 L512.8 1282.7 L515.0 1284.5 L517.3 1286.4 L519.5 1288.2 L521.7 1290.0 L524.0 1291.8 L526.2 1293.6 L528.5 1295.5 L530.8 1297.3 L533.0 1299.1 L535.3 1300.9 L537.6 1302.7 L539.9 1304.5 L542.2 1306.4 L544.5 1308.2 L546.8 1310.0 L549.1 1311.8 L551.4 1313.6 L553.7 1315.5 L556.0 1317.3 L558.3 1319.1 L560.6 1320.9 L563.0 1322.7 L565.3 1324.5 L567.6 1326.4 L570.0 1328.2 L572.3 1330.0 L574.6 1331.8 L577.0 1333.6 L579.3 1335.5 L581.7 1337.3 L584.0 1339.1 L586.4 1340.9 L588.8 1342.7 L591.1 1344.5 L593.5 1346.4 L595.9 1348.2 L598.2 1350.0 L600.6 1351.8 L603.0 1353.6 L605.4 1355.5 L607.8 1357.3 L610.1 1359.1 L612.5 1360.9 L614.9 1362.7 L617.3 1364.5 L619.7 1366.4 L622.1 1368.2 L624.5 1370.0 L626.9 1371.8 L629.3 1373.6 L631.7 1375.5 L634.1 1377.3 L636.6 1379.1 L639.0 1380.9 L641.4 1382.7 L643.8 1384.5 L646.2 1386.4 L648.6 1388.2 L651.1 1390.0 L653.5 1391.8 L655.9 1393.6 L658.4 1395.5 L660.8 1397.3 L663.2 1399.1 L665.7 1400.9 L668.1 1402.7 L670.5 1404.5 L673.0 1406.4 L675.4 1408.2 L677.8 1410.0 L680.3 1411.8 L682.7 1413.6 L685.2 1415.5 L687.6 1417.3 L690.1 1419.1 L692.5 1420.9 L695.0 1422.7 L697.4 1424.5 L699.9 1426.4 L702.3 1428.2 L704.8 1430.0 L707.2 1431.8 L709.7 1433.6 L712.1 1435.5 L714.6 1437.3 L717.0 1439.1 L719.5 1440.9 L721.9 1442.7 L724.4 1444.5 L726.8 1446.4 L729.3 1448.2 L731.8 1450.0 L734.2 1451.8 L736.7 1453.6 L739.1 1455.5 L741.6 1457.3 L744.0 1459.1 L746.5 1460.9 L749.0 1462.7 L751.4 1464.5 L753.9 1466.4 L756.3 1468.2 L758.8 1470.0 L761.2 1471.8 L763.7 1473.6 L766.1 1475.5 L768.6 1477.3 L771.1 1479.1 L773.5 1480.9 L776.0 1482.7 L778.4 1484.5 L780.9 1486.4 L783.3 1488.2 L785.8 1490.0 L788.2 1491.8 L790.7 1493.6 L793.1 1495.5 L795.5 1497.3 L798.0 1499.1 L800.4 1500.9 L802.9 1502.7 L805.3 1504.5 L807.8 1506.4 L810.2 1508.2 L812.6 1510.0 L815.1 1511.8 L817.5 1513.6 L819.9 1515.5 L822.4 1517.3 L824.8 1519.1 L827.2 1520.9 L829.6 1522.7 L832.1 1524.5 L834.5 1526.4 L836.9 1528.2 L839.3 1530.0 L841.8 1531.8 L844.2 1533.6 L846.6 1535.5 L849.0 1537.3 L851.4 1539.1 L853.8 1540.9 L856.2 1542.7 L858.6 1544.5 L861.0 1546.4 L863.4 1548.2 L865.8 1550.0 L868.2 1551.8 L870.6 1553.6 L873.0 1555.5 L875.4 1557.3 L877.7 1559.1 L880.1 1560.9 L882.5 1562.7 L884.9 1564.5 L887.2 1566.4 L889.6 1568.2 L892.0 1570.0 L894.3 1571.8 L896.7 1573.6 L899.0 1575.5 L901.4 1577.3 L903.8 1579.1 L906.1 1580.9 L908.4 1582.7 L910.8 1584.5 L913.1 1586.4 L915.5 1588.2 L917.8 1590.0 L920.1 1591.8 L922.4 1593.6 L924.7 1595.5 L927.1 1597.3 L929.4 1599.1 L931.7 1600.9 L934.0 1602.7 L936.3 1604.5 L938.6 1606.4 L940.9 1608.2 L943.2 1610.0 L945.4 1611.8 L947.7 1613.6 L950.0 1615.5 L952.3 1617.3 L954.5 1619.1 L956.8 1620.9 L959.1 1622.7 L961.3 1624.5 L963.6 1626.4 L965.8 1628.2 L968.1 1630.0 L970.3 1631.8 L972.5 1633.6 L974.7 1635.5 L977.0 1637.3 L979.2 1639.1 L981.4 1640.9 L983.6 1642.7 L985.8 1644.5 L988.0 1646.4 L990.2 1648.2 L992.4 1650.0 L994.6 1651.8 L996.8 1653.6 L998.9 1655.5 L1001.1 1657.3 L1003.3 1659.1 L1005.4 1660.9 L1007.6 1662.7 L1009.8 1664.5 L1011.9 1666.4 L1014.1 1668.2 L1016.2 1670.0 L1018.3 1671.8 L1020.5 1673.6 L1022.6 1675.5 L1024.7 1677.3 L1026.8 1679.1 L1029.0 1680.9 L1031.1 1682.7 L1033.2 1684.5 L1035.3 1686.4 L1037.4 1688.2 L1039.5 1690.0 L1041.6 1691.8 L1043.7 1693.6 L1045.8 1695.5 L1047.8 1697.3 L1049.9 1699.1 L1052.0 1700.9 L1054.1 1702.7 L1056.1 1704.5 L1058.2 1706.4 L1060.2 1708.2 L1062.3 1710.0 L1064.4 1711.8 L1066.4 1713.6 L1068.4 1715.5 L1070.5 1717.3 L1072.5 1719.1 L1074.6 1720.9 L1076.6 1722.7 L1078.6 1724.5 L1080.7 1726.4 L1082.7 1728.2 L1084.7 1730.0 L1086.7 1731.8 L1088.7 1733.6 L1090.7 1735.5 L1092.7 1737.3 L1094.7 1739.1 L1096.7 1740.9 L1098.7 1742.7 L1100.7 1744.5 L1102.7 1746.4 L1104.7 1748.2 L1106.7 1750.0 L1108.7 1751.8 L1110.6 1753.6 L1112.6 1755.5 L1114.6 1757.3 L1116.6 1759.1 L1118.5 1760.9 L1120.5 1762.7 L1122.5 1764.5 L1124.4 1766.4 L1126.4 1768.2 L1128.3 1770.0 L1130.3 1771.8 L1132.2 1773.6 L1134.2 1775.5 L1136.1 1777.3 L1138.1 1779.1 L1140.0 1780.9 L1141.9 1782.7 L1143.9 1784.5 L1145.8 1786.4 L1147.7 1788.2 L1149.7 1790.0 L1151.6 1791.8 L1153.5 1793.6 L1155.4 1795.5 L1157.4 1797.3 L1159.3 1799.1 L1161.2 1800.9 L1163.1 1802.7 L1165.0 1804.5 L1166.9 1806.4 L1168.8 1808.2 L1170.7 1810.0 L1172.6 1811.8 L1174.5 1813.6 L1176.4 1815.5 L1178.3 1817.3 L1180.2 1819.1 L1182.1 1820.9 L1184.0 1822.7 L1185.9 1824.5 L1187.8 1826.4 L1189.7 1828.2 L1191.5 1830.0 L1193.4 1831.8 L1195.3 1833.6 L1197.2 1835.5 L1199.1 1837.3 L1200.9 1839.1 L1202.8 1840.9 L1204.7 1842.7 L1206.6 1844.5 L1208.4 1846.4 L1210.3 1848.2 L1212.2 1850.0 L1214.0 1851.8 L1215.9 1853.6 L1217.8 1855.5 L1219.6 1857.3 L1221.5 1859.1 L1223.3 1860.9 L1225.2 1862.7 L1227.1 1864.5 L1228.9 1866.4 L1230.8 1868.2 L1232.6 1870.0 L1234.5 1871.8 L1236.3 1873.6 L1238.2 1875.5 L1240.0 1877.3 L1241.9 1879.1 L1243.7 1880.9 L1245.6 1882.7 L1247.4 1884.5 L1249.3 1886.4 L1251.1 1888.2 L1253.0 1890.0 L1254.8 1891.8 L1256.7 1893.6 L1258.5 1895.5 L1260.4 1897.3 L1262.2 1899.1 L1264.0 1900.9 L1265.9 1902.7 L1267.7 1904.5 L1269.6 1906.4 L1271.4 1908.2 L1273.2 1910.0 L1275.1 1911.8 L1276.9 1913.6 L1278.8 1915.5 L1280.6 1917.3 L1282.4 1919.1 L1284.3 1920.9 L1286.1 1922.7 L1288.0 1924.5 L1289.8 1926.4 L1291.6 1928.2 L1293.5 1930.0 L1295.3 1931.8 L1297.1 1933.6 L1299.0 1935.5 L1300.8 1937.3 L1302.7 1939.1 L1304.5 1940.9 L1306.3 1942.7 L1308.2 1944.5 L1310.0 1946.4 L1311.9 1948.2 L1313.7 1950.0 L1315.5 1951.8 L1317.4 1953.6 L1319.2 1955.5 L1321.1 1957.3 L1322.9 1959.1 L1324.7 1960.9 L1326.6 1962.7 L1328.4 1964.5 L1330.3 1966.4 L1332.1 1968.2 L1334.0 1970.0 L1334.9 1970.9 L1343.0 1978.9" stroke="#000000"/>
<path d="M338.9 1078.2 L338.9 1109.1 L339.4 1110.9 L339.9 1112.7 L340.4 1114.5 L340.9 1116.4 L341.5 1118.2 L342.0 1120.0 L342.6 1121.8 L343.1 1123.6 L343.7 1125.5 L344.2 1127.3 L344.8 1129.1 L345.4 1130.9 L346.0 1132.7 L346.6 1134.5 L347.2 1136.4 L347.8 1138.2 L348.4 1140.0 L349.1 1141.8 L349.7 1143.6 L350.3 1145.5 L351.0 1147.3 L351.6 1149.1 L352.3 1150.9 L353.0 1152.7 L353.6 1154.5 L354.3 1156.4 L355.0 1158.2 L355.7 1160.0 L356.4 1161.8 L357.1 1163.6 L357.8 1165.5 L358.5 1167.3 L359.3 1169.1 L360.0 1170.9 L360.8 1172.7 L361.5 1174.5 L362.3 1176.4 L363.0 1178.2 L363.8 1180.0 L364.5 1181.8 L365.3 1183.6 L366.1 1185.5 L366.9 1187.3 L367.7 1189.1 L368.5 1190.9 L369.3 1192.7 L370.1 1194.5 L370.9 1196.4 L371.8 1198.2 L372.6 1200.0 L373.4 1201.8 L374.3 1203.6 L375.1 1205.5 L376.0 1207.3 L376.8 1209.1 L377.7 1210.9 L378.6 1212.7 L379.4 1214.5 L380.3 1216.4 L381.2 1218.2 L382.1 1220.0 L383.0 1221.8 L383.9 1223.6 L384.8 1225.5 L385.7 1227.3 L386.6 1229.1 L387.5 1230.9 L388.4 1232.7 L389.4 1234.5 L390.3 1236.4 L391.2 1238.2 L392.2 1240.0 L393.1 1241.8 L394.1 1243.6 L395.0 1245.5 L396.0 1247.3 L397.0 1249.1 L397.9 1250.9 L398.9 1252.7 L399.9 1254.5 L400.9 1256.4 L401.9 1258.2 L402.9 1260.0 L403.8 1261.8 L404.8 1263.6 L405.8 1265.5 L406.9 1267.3 L407.9 1269.1 L408.9 1270.9 L409.9 1272.7 L410.9 1274.5 L411.9 1276.4 L413.0 1278.2 L414.0 1280.0 L415.0 1281.8 L416.1 1283.6 L417.1 1285.5 L418.2 1287.3 L419.2 1289.1 L420.3 1290.9 L421.3 1292.7 L422.4 1294.5 L423.5 1296.4 L424.5 1298.2 L425.6 1300.0 L426.7 1301.8 L427.7 1303.6 L428.8 1305.5 L429.9 1307.3 L431.0 1309.1 L432.1 1310.9 L433.2 1312.7 L434.3 1314.5 L435.4 1316.4 L436.5 1318.2 L437.6 1320.0 L438.7 1321.8 L439.8 1323.6 L440.9 1325.5 L442.0 1327.3 L443.1 1329.1 L444.2 1330.9 L445.3 1332.7 L446.4 1334.5 L447.6 1336.4 L448.7 1338.2 L449.8 1340.0 L450.9 1341.8 L452.1 1343.6 L453.2 1345.5 L454.3 1347.3 L455.5 1349.1 L456.6 1350.9 L457.8 1352.7 L458.9 1354.5 L460.0 1356.4 L461.2 1358.2 L462.3 1360.0 L463.5 1361.8 L464.6 1363.6 L465.8 1365.5 L466.9 1367.3 L468.1 1369.1 L469.3 1370.9 L470.4 1372.7 L471.6 1374.5 L472.7 1376.4 L473.9 1378.2 L475.0 1380.0 L476.2 1381.8 L477.4 1383.6 L478.5 1385.5 L479.7 1387.3 L480.9 1389.1 L482.0 1390.9 L483.2 1392.7 L484.4 1394.5 L485.5 1396.4 L486.7 1398.2 L487.9 1400.0 L489.0 1401.8 L490.2 1403.6 L491.4 1405.5 L492.6 1407.3 L493.7 1409.1 L494.9 1410.9 L496.1 1412.7 L497.3 1414.5 L498.4 1416.4 L499.6 1418.2 L500.8 1420.0 L502.0 1421.8 L503.1 1423.6 L504.3 1425.5 L505.5 1427.3 L506.7 1429.1 L507.8 1430.9 L509.0 1432.7 L510.2 1434.5 L511.4 1436.4 L512.5 1438.2 L513.7 1440.0 L514.9 1441.8 L516.1 1443.6 L517.2 1445.5 L518.4 1447.3 L519.6 1449.1 L520.8 1450.9 L521.9 1452.7 L523.1 1454.5 L524.3 1456.4 L525.5 1458.2 L526.7 1460.0 L527.8 1461.8 L529.0 1463.6 L530.2 1465.5 L531.4 1467.3 L532.5 1469.1 L533.7 1470.9 L534.9 1472.7 L536.1 1474.5 L537.3 1476.4 L538.4 1478.2 L539.6 1480.0 L540.8 1481.8 L542.0 1483.6 L543.1 1485.5 L544.3 1487.3 L545.5 1489.1 L546.7 1490.9 L547.8 1492.7 L549.0 1494.5 L550.2 1496.4 L551.4 1498.2 L552.6 1500.0 L553.7 1501.8 L554.9 1503.6 L556.1 1505.5 L557.3 1507.3 L558.4 1509.1 L559.6 1510.9 L560.8 1512.7 L561.9 1514.5 L563.1 1516.4 L564.3 1518.2 L565.5 1520.0 L566.6 1521.8 L567.8 1523.6 L569.0 1525.5 L570.2 1527.3 L571.3 1529.1 L572.5 1530.9 L573.7 1532.7 L574.8 1534.5 L576.0 1536.4 L577.2 1538.2 L578.4 1540.0 L579.5 1541.8 L580.7 1543.6 L581.9 1545.5 L583.0 1547.3 L584.2 1549.1 L585.4 1550.9 L586.5 1552.7 L587.7 1554.5 L588.9 1556.4 L590.0 1558.2 L591.2 1560.0 L592.3 1561.8 L593.5 1563.6 L594.7 1565.5 L595.8 1567.3 L597.0 1569.1 L598.2 1570.9 L599.3 1572.7 L600.5 1574.5 L601.6 1576.4 L602.8 1578.2 L603.9 1580.0 L605.1 1581.8 L606.3 1583.6 L607.4 1585.5 L608.6 1587.3 L609.7 1589.1 L610.9 1590.9 L612.0 1592.7 L613.2 1594.5 L614.3 1596.4 L615.5 1598.2 L616.6 1600.0 L617.8 1601.8 L618.9 1603.6 L620.1 1605.5 L621.2 1607.3 L622.4 1609.1 L623.5 1610.9 L624.7 1612.7 L625.8 1614.5 L626.9 1616.4 L628.1 1618.2 L629.2 1620.0 L630.4 1621.8 L631.5 1623.6 L632.7 1625.5 L633.8 1627.3 L634.9 1629.1 L636.1 1630.9 L637.2 1632.7 L638.3 1634.5 L639.5 1636.4 L640.6 1638.2 L641.7 1640.0 L642.9 1641.8 L644.0 1643.6 L645.1 1645.5 L646.2 1647.3 L647.4 1649.1 L648.5 1650.9 L649.6 1652.7 L650.7 1654.5 L651.9 1656.4 L653.0 1658.2 L654.1 1660.0 L655.2 1661.8 L656.3 1663.6 L657.5 1665.5 L658.6 1667.3 L659.7 1669.1 L660.8 1670.9 L661.9 1672.7 L663.0 1674.5 L664.1 1676.4 L665.2 1678.2 L666.3 1680.0 L667.4 1681.8 L668.6 1683.6 L669.7 1685.5 L670.8 1687.3 L671.9 1689.1 L673.0 1690.9 L674.1 1692.7 L675.2 1694.5 L676.3 1696.4 L677.3 1698.2 L678.4 1700.0 L679.5 1701.8 L680.6 1703.6 L681.7 1705.5 L682.8 1707.3 L683.9 1709.1 L685.0 1710.9 L686.1 1712.7 L687.1 1714.5 L688.2 1716.4 L689.3 1718.2 L690.4 1720.0 L691.5 1721.8 L692.5 1723.6 L693.6 1725.5 L694.7 1727.3 L695.7 1729.1 L696.8 1730.9 L697.9 1732.7 L699.0 1734.5 L700.0 1736.4 L701.1 1738.2 L702.1 1740.0 L703.2 1741.8 L704.3 1743.6 L705.3 1745.5 L706.4 1747.3 L707.4 1749.1 L708.5 1750.9 L709.5 1752.7 L710.6 1754.5 L711.6 1756.4 L712.7 1758.2 L713.7 1760.0 L714.8 1761.8 L715.8 1763.6 L716.8 1765.5 L717.9 1767.3 L718.9 1769.1 L720.0 1770.9 L721.0 1772.7 L722.0 1774.5 L723.0 1776.4 L724.1 1778.2 L725.1 1780.0 L726.1 1781.8 L727.1 1783.6 L728.2 1785.5 L729.2 1787.3 L730.2 1789.1 L731.2 1790.9 L732.2 1792.7 L733.2 1794.5 L734.3 1796.4 L735.3 1798.2 L736.3 1800.0 L737.3 1801.8 L738.3 1803.6 L739.3 1805.5 L740.3 1807.3 L741.3 1809.1 L742.3 1810.9 L743.3 1812.7 L744.2 1814.5 L745.2 1816.4 L746.2 1818.2 L747.2 1820.0 L748.2 1821.8 L749.2 1823.6 L750.2 1825.5 L751.1 1827.3 L752.1 1829.1 L753.1 1830.9 L754.0 1832.7 L755.0 1834.5 L756.0 1836.4 L756.9 1838.2 L757.9 1840.0 L758.9 1841.8 L759.8 1843.6 L760.8 1845.5 L761.7 1847.3 L762.7 1849.1 L763.6 1850.9 L764.6 1852.7 L765.5 1854.5 L766.5 1856.4 L767.4 1858.2 L768.4 1860.0 L769.3 1861.8 L770.2 1863.6 L771.2 1865.5 L772.1 1867.3 L773.0 1869.1 L773.9 1870.9 L774.9 1872.7 L775.8 1874.5 L776.7 1876.4 L777.6 1878.2 L778.5 1880.0 L779.4 1881.8 L780.4 1883.6 L781.3 1885.5 L782.2 1887.3 L783.1 1889.1 L784.0 1890.9 L784.9 1892.7 L785.8 1894.5 L786.7 1896.4 L787.5 1898.2 L788.4 1900.0 L789.3 1901.8 L790.2 1903.6 L791.1 1905.5 L792.0 1907.3 L792.8 1909.1 L793.7 1910.9 L794.6 1912.7 L795.5 1914.5 L796.3 1916.4 L797.2 1918.2 L798.0 1920.0 L798.9 1921.8 L799.8 1923.6 L800.6 1925.5 L801.5 1927.3 L802.3 1929.1 L803.2 1930.9 L804.0 1932.7 L804.8 1934.5 L805.7 1936.4 L806.5 1938.2 L807.3 1940.0 L808.2 1941.8 L809.0 1943.6 L809.8 1945.5 L810.6 1947.3 L811.5 1949.1 L812.3 1950.9 L813.1 1952.7 L813.9 1954.5 L814.7 1956.4 L815.5 1958.2 L816.3 1960.0 L817.1 1961.8 L817.9 1963.6 L818.7 1965.5 L819.5 1967.3 L820.3 1969.1 L821.1 1970.9 L825.5 1981.1" stroke="#ff0000"/>
<path d="M338.9 1078.2 L338.9 1172.7 L339.1 1174.5 L339.3 1176.4 L339.4 1178.2 L339.6 1180.0 L339.8 1181.8 L340.0 1183.6 L340.2 1185.5 L340.4 1187.3 L340.5 1189.1 L340.7 1190.9 L340.9 1192.7 L341.1 1194.5 L341.3 1196.4 L341.5 1198.2 L341.7 1200.0 L341.9 1201.8 L342.1 1203.6 L342.3 1205.5 L342.5 1207.3 L342.7 1209.1 L342.9 1210.9 L343.1 1212.7 L343.3 1214.5 L343.5 1216.4 L343.7 1218.2 L343.9 1220.0 L344.1 1221.8 L344.3 1223.6 L344.5 1225.5 L344.7 1227.3 L345.0 1229.1 L345.2 1230.9 L345.4 1232.7 L345.6 1234.5 L345.8 1236.4 L346.0 1238.2 L346.2 1240.0 L346.5 1241.8 L346.7 1243.6 L346.9 1245.5 L347.1 1247.3 L347.4 1249.1 L347.6 1250.9 L347.8 1252.7 L348.0 1254.5 L348.3 1256.4 L348.5 1258.2 L348.7 1260.0 L348.9 1261.8 L349.2 1263.6 L349.4 1265.5 L349.6 1267.3 L349.9 1269.1 L350.1 1270.9 L350.3 1272.7 L350.6 1274.5 L350.8 1276.4 L351.1 1278.2 L351.3 1280.0 L351.5 1281.8 L351.8 1283.6 L352.0 1285.5 L352.3 1287.3 L352.5 1289.1 L352.8 1290.9 L353.0 1292.7 L353.3 1294.5 L353.5 1296.4 L353.8 1298.2 L354.0 1300.0 L354.3 1301.8 L354.5 1303.6 L354.8 1305.5 L355.0 1307.3 L355.3 1309.1 L355.5 1310.9 L355.8 1312.7 L356.0 1314.5 L356.3 1316.4 L356.5 1318.2 L356.8 1320.0 L357.1 1321.8 L357.3 1323.6 L357.6 1325.5 L357.9 1327.3 L358.1 1329.1 L358.4 1330.9 L358.6 1332.7 L358.9 1334.5 L359.2 1336.4 L359.4 1338.2 L359.7 1340.0 L360.0 1341.8 L360.2 1343.6 L360.5 1345.5 L360.8 1347.3 L361.1 1349.1 L361.3 1350.9 L361.6 1352.7 L361.9 1354.5 L362.2 1356.4 L362.4 1358.2 L362.7 1360.0 L363.0 1361.8 L363.3 1363.6 L363.5 1365.5 L363.8 1367.3 L364.1 1369.1 L364.4 1370.9 L364.7 1372.7 L364.9 1374.5 L365.2 1376.4 L365.5 1378.2 L365.8 1380.0 L366.1 1381.8 L366.3 1383.6 L366.6 1385.5 L366.9 1387.3 L367.2 1389.1 L367.5 1390.9 L367.8 1392.7 L368.1 1394.5 L368.4 1396.4 L368.6 1398.2 L368.9 1400.0 L369.2 1401.8 L369.5 1403.6 L369.8 1405.5 L370.1 1407.3 L370.4 1409.1 L370.7 1410.9 L371.0 1412.7 L371.3 1414.5 L371.6 1416.4 L371.9 1418.2 L372.2 1420.0 L372.5 1421.8 L372.8 1423.6 L373.0 1425.5 L373.3 1427.3 L373.6 1429.1 L373.9 1430.9 L374.2 1432.7 L374.5 1434.5 L374.8 1436.4 L375.1 1438.2 L375.4 1440.0 L375.7 1441.8 L376.0 1443.6 L376.3 1445.5 L376.7 1447.3 L377.0 1449.1 L377.3 1450.9 L377.6 1452.7 L377.9 1454.5 L378.2 1456.4 L378.5 1458.2 L378.8 1460.0 L379.1 1461.8 L379.4 1463.6 L379.7 1465.5 L380.0 1467.3 L380.3 1469.1 L380.6 1470.9 L380.9 1472.7 L381.2 1474.5 L381.6 1476.4 L381.9 1478.2 L382.2 1480.0 L382.5 1481.8 L382.8 1483.6 L383.1 1485.5 L383.4 1487.3 L383.7 1489.1 L384.0 1490.9 L384.4 1492.7 L384.7 1494.5 L385.0 1496.4 L385.3 1498.2 L385.6 1500.0 L385.9 1501.8 L386.2 1503.6 L386.5 1505.5 L386.9 1507.3 L387.2 1509.1 L387.5 1510.9 L387.8 1512.7 L388.1 1514.5 L388.4 1516.4 L388.8 1518.2 L389.1 1520.0 L389.4 1521.8 L389.7 1523.6 L390.0 1525.5 L390.3 1527.3 L390.7 1529.1 L391.0 1530.9 L391.3 1532.7 L391.6 1534.5 L391.9 1536.4 L392.2 1538.2 L392.6 1540.0 L392.9 1541.8 L393.2 1543.6 L393.5 1545.5 L393.8 1547.3 L394.2 1549.1 L394.5 1550.9 L394.8 1552.7 L395.1 1554.5 L395.4 1556.4 L395.7 1558.2 L396.1 1560.0 L396.4 1561.8 L396.7 1563.6 L397.0 1565.5 L397.3 1567.3 L397.7 1569.1 L398.0 1570.9 L398.3 1572.7 L398.6 1574.5 L399.0 1576.4 L399.3 1578.2 L399.6 1580.0 L399.9 1581.8 L400.2 1583.6 L400.6 1585.5 L400.9 1587.3 L401.2 1589.1 L401.5 1590.9 L401.8 1592.7 L402.2 1594.5 L402.5 1596.4 L402.8 1598.2 L403.1 1600.0 L403.4 1601.8 L403.8 1603.6 L404.1 1605.5 L404.4 1607.3 L404.7 1609.1 L405.0 1610.9 L405.4 1612.7 L405.7 1614.5 L406.0 1616.4 L406.3 1618.2 L406.6 1620.0 L407.0 1621.8 L407.3 1623.6 L407.6 1625.5 L407.9 1627.3 L408.3 1629.1 L408.6 1630.9 L408.9 1632.7 L409.2 1634.5 L409.5 1636.4 L409.8 1638.2 L410.2 1640.0 L410.5 1641.8 L410.8 1643.6 L411.1 1645.5 L411.4 1647.3 L411.8 1649.1 L412.1 1650.9 L412.4 1652.7 L412.7 1654.5 L413.0 1656.4 L413.4 1658.2 L413.7 1660.0 L414.0 1661.8 L414.3 1663.6 L414.6 1665.5 L414.9 1667.3 L415.3 1669.1 L415.6 1670.9 L415.9 1672.7 L416.2 1674.5 L416.5 1676.4 L416.8 1678.2 L417.2 1680.0 L417.5 1681.8 L417.8 1683.6 L418.1 1685.5 L418.4 1687.3 L418.7 1689.1 L419.0 1690.9 L419.4 1692.7 L419.7 1694.5 L420.0 1696.4 L420.3 1698.2 L420.6 1700.0 L420.9 1701.8 L421.2 1703.6 L421.5 1705.5 L421.8 1707.3 L422.2 1709.1 L422.5 1710.9 L422.8 1712.7 L423.1 1714.5 L423.4 1716.4 L423.7 1718.2 L424.0 1720.0 L424.3 1721.8 L424.6 1723.6 L424.9 1725.5 L425.2 1727.3 L425.6 1729.1 L425.9 1730.9 L426.2 1732.7 L426.5 1734.5 L426.8 1736.4 L427.1 1738.2 L427.4 1740.0 L427.7 1741.8 L428.0 1743.6 L428.3 1745.5 L428.6 1747.3 L428.9 1749.1 L429.2 1750.9 L429.5 1752.7 L429.8 1754.5 L430.1 1756.4 L430.4 1758.2 L430.7 1760.0 L431.0 1761.8 L431.3 1763.6 L431.6 1765.5 L431.9 1767.3 L432.2 1769.1 L432.5 1770.9 L432.8 1772.7 L433.1 1774.5 L433.4 1776.4 L433.7 1778.2 L434.0 1780.0 L434.3 1781.8 L434.6 1783.6 L434.8 1785.5 L435.1 1787.3 L435.4 1789.1 L435.7 1790.9 L436.0 1792.7 L436.3 1794.5 L436.6 1796.4 L436.9 1798.2 L437.2 1800.0 L437.4 1801.8 L437.7 1803.6 L438.0 1805.5 L438.3 1807.3 L438.6 1809.1 L438.9 1810.9 L439.2 1812.7 L439.4 1814.5 L439.7 1816.4 L440.0 1818.2 L440.3 1820.0 L440.6 1821.8 L440.8 1823.6 L441.1 1825.5 L441.4 1827.3 L441.7 1829.1 L442.0 1830.9 L442.2 1832.7 L442.5 1834.5 L442.8 1836.4 L443.1 1838.2 L443.3 1840.0 L443.6 1841.8 L443.9 1843.6 L444.1 1845.5 L444.4 1847.3 L444.7 1849.1 L444.9 1850.9 L445.2 1852.7 L445.5 1854.5 L445.8 1856.4 L446.0 1858.2 L446.3 1860.0 L446.5 1861.8 L446.8 1863.6 L447.1 1865.5 L447.3 1867.3 L447.6 1869.1 L447.9 1870.9 L448.1 1872.7 L448.4 1874.5 L448.6 1876.4 L448.9 1878.2 L449.1 1880.0 L449.4 1881.8 L449.7 1883.6 L449.9 1885.5 L450.2 1887.3 L450.4 1889.1 L450.7 1890.9 L450.9 1892.7 L451.2 1894.5 L451.4 1896.4 L451.7 1898.2 L451.9 1900.0 L452.2 1901.8 L452.4 1903.6 L452.6 1905.5 L452.9 1907.3 L453.1 1909.1 L453.4 1910.9 L453.6 1912.7 L453.8 1914.5 L454.1 1916.4 L454.3 1918.2 L454.6 1920.0 L454.8 1921.8 L455.0 1923.6 L455.3 1925.5 L455.5 1927.3 L455.7 1929.1 L456.0 1930.9 L456.2 1932.7 L456.4 1934.5 L456.6 1936.4 L456.9 1938.2 L457.1 1940.0 L457.3 1941.8 L457.5 1943.6 L457.8 1945.5 L458.0 1947.3 L458.2 1949.1 L458.4 1950.9 L458.7 1952.7 L458.9 1954.5 L459.1 1956.4 L459.3 1958.2 L459.5 1960.0 L459.7 1961.8 L459.9 1963.6 L460.2 1965.5 L460.4 1967.3 L460.6 1969.1 L460.8 1970.9 L462.0 1981.8" stroke="#0000ff"/>
<path d="M338.9 1078.2 L338.9 1243.6 L339.0 1245.5 L339.2 1247.3 L339.3 1249.1 L339.4 1250.9 L339.5 1252.7 L339.7 1254.5 L339.8 1256.4 L339.9 1258.2 L340.1 1260.0 L340.2 1261.8 L340.3 1263.6 L340.5 1265.5 L340.6 1267.3 L340.7 1269.1 L340.9 1270.9 L341.0 1272.7 L341.1 1274.5 L341.3 1276.4 L341.4 1278.2 L341.6 1280.0 L341.7 1281.8 L341.8 1283.6 L342.0 1285.5 L342.1 1287.3 L342.3 1289.1 L342.4 1290.9 L342.5 1292.7 L342.7 1294.5 L342.8 1296.4 L343.0 1298.2 L343.1 1300.0 L343.3 1301.8 L343.4 1303.6 L343.5 1305.5 L343.7 1307.3 L343.8 1309.1 L344.0 1310.9 L344.1 1312.7 L344.3 1314.5 L344.4 1316.4 L344.6 1318.2 L344.7 1320.0 L344.9 1321.8 L345.0 1323.6 L345.2 1325.5 L345.3 1327.3 L345.5 1329.1 L345.7 1330.9 L345.8 1332.7 L346.0 1334.5 L346.1 1336.4 L346.3 1338.2 L346.4 1340.0 L346.6 1341.8 L346.7 1343.6 L346.9 1345.5 L347.1 1347.3 L347.2 1349.1 L347.4 1350.9 L347.5 1352.7 L347.7 1354.5 L347.9 1356.4 L348.0 1358.2 L348.2 1360.0 L348.3 1361.8 L348.5 1363.6 L348.7 1365.5 L348.8 1367.3 L349.0 1369.1 L349.2 1370.9 L349.3 1372.7 L349.5 1374.5 L349.7 1376.4 L349.8 1378.2 L350.0 1380.0 L350.2 1381.8 L350.3 1383.6 L350.5 1385.5 L350.7 1387.3 L350.8 1389.1 L351.0 1390.9 L351.2 1392.7 L351.3 1394.5 L351.5 1396.4 L351.7 1398.2 L351.8 1400.0 L352.0 1401.8 L352.2 1403.6 L352.4 1405.5 L352.5 1407.3 L352.7 1409.1 L352.9 1410.9 L353.1 1412.7 L353.2 1414.5 L353.4 1416.4 L353.6 1418.2 L353.8 1420.0 L353.9 1421.8 L354.1 1423.6 L354.3 1425.5 L354.5 1427.3 L354.6 1429.1 L354.8 1430.9 L355.0 1432.7 L355.2 1434.5 L355.3 1436.4 L355.5 1438.2 L355.7 1440.0 L355.9 1441.8 L356.1 1443.6 L356.2 1445.5 L356.4 1447.3 L356.6 1449.1 L356.8 1450.9 L357.0 1452.7 L357.1 1454.5 L357.3 1456.4 L357.5 1458.2 L357.7 1460.0 L357.9 1461.8 L358.1 1463.6 L358.2 1465.5 L358.4 1467.3 L358.6 1469.1 L358.8 1470.9 L359.0 1472.7 L359.2 1474.5 L359.3 1476.4 L359.5 1478.2 L359.7 1480.0 L359.9 1481.8 L360.1 1483.6 L360.3 1485.5 L360.5 1487.3 L360.7 1489.1 L360.8 1490.9 L361.0 1492.7 L361.2 1494.5 L361.4 1496.4 L361.6 1498.2 L361.8 1500.0 L362.0 1501.8 L362.2 1503.6 L362.3 1505.5 L362.5 1507.3 L362.7 1509.1 L362.9 1510.9 L363.1 1512.7 L363.3 1514.5 L363.5 1516.4 L363.7 1518.2 L363.9 1520.0 L364.1 1521.8 L364.2 1523.6 L364.4 1525.5 L364.6 1527.3 L364.8 1529.1 L365.0 1530.9 L365.2 1532.7 L365.4 1534.5 L365.6 1536.4 L365.8 1538.2 L366.0 1540.0 L366.2 1541.8 L366.4 1543.6 L366.6 1545.5 L366.7 1547.3 L366.9 1549.1 L367.1 1550.9 L367.3 1552.7 L367.5 1554.5 L367.7 1556.4 L367.9 1558.2 L368.1 1560.0 L368.3 1561.8 L368.5 1563.6 L368.7 1565.5 L368.9 1567.3 L369.1 1569.1 L369.3 1570.9 L369.5 1572.7 L369.7 1574.5 L369.9 1576.4 L370.1 1578.2 L370.3 1580.0 L370.4 1581.8 L370.6 1583.6 L370.8 1585.5 L371.0 1587.3 L371.2 1589.1 L371.4 1590.9 L371.6 1592.7 L371.8 1594.5 L372.0 1596.4 L372.2 1598.2 L372.4 1600.0 L372.6 1601.8 L372.8 1603.6 L373.0 1605.5 L373.2 1607.3 L373.4 1609.1 L373.6 1610.9 L373.8 1612.7 L374.0 1614.5 L374.2 1616.4 L374.4 1618.2 L374.6 1620.0 L374.8 1621.8 L375.0 1623.6 L375.2 1625.5 L375.4 1627.3 L375.6 1629.1 L375.8 1630.9 L376.0 1632.7 L376.2 1634.5 L376.4 1636.4 L376.6 1638.2 L376.8 1640.0 L377.0 1641.8 L377.1 1643.6 L377.3 1645.5 L377.5 1647.3 L377.7 1649.1 L377.9 1650.9 L378.1 1652.7 L378.3 1654.5 L378.5 1656.4 L378.7 1658.2 L378.9 1660.0 L379.1 1661.8 L379.3 1663.6 L379.5 1665.5 L379.7 1667.3 L379.9 1669.1 L380.1 1670.9 L380.3 1672.7 L380.5 1674.5 L380.7 1676.4 L380.9 1678.2 L381.1 1680.0 L381.3 1681.8 L381.5 1683.6 L381.7 1685.5 L381.9 1687.3 L382.1 1689.1 L382.3 1690.9 L382.5 1692.7 L382.7 1694.5 L382.9 1696.4 L383.1 1698.2 L383.3 1700.0 L383.5 1701.8 L383.7 1703.6 L383.8 1705.5 L384.0 1707.3 L384.2 1709.1 L384.4 1710.9 L384.6 1712.7 L384.8 1714.5 L385.0 1716.4 L385.2 1718.2 L385.4 1720.0 L385.6 1721.8 L385.8 1723.6 L386.0 1725.5 L386.2 1727.3 L386.4 1729.1 L386.6 1730.9 L386.8 1732.7 L387.0 1734.5 L387.2 1736.4 L387.4 1738.2 L387.5 1740.0 L387.7 1741.8 L387.9 1743.6 L388.1 1745.5 L388.3 1747.3 L388.5 1749.1 L388.7 1750.9 L388.9 1752.7 L389.1 1754.5 L389.3 1756.4 L389.5 1758.2 L389.7 1760.0 L389.9 1761.8 L390.0 1763.6 L390.2 1765.5 L390.4 1767.3 L390.6 1769.1 L390.8 1770.9 L391.0 1772.7 L391.2 1774.5 L391.4 1776.4 L391.6 1778.2 L391.8 1780.0 L391.9 1781.8 L392.1 1783.6 L392.3 1785.5 L392.5 1787.3 L392.7 1789.1 L392.9 1790.9 L393.1 1792.7 L393.3 1794.5 L393.5 1796.4 L393.6 1798.2 L393.8 1800.0 L394.0 1801.8 L394.2 1803.6 L394.4 1805.5 L394.6 1807.3 L394.8 1809.1 L394.9 1810.9 L395.1 1812.7 L395.3 1814.5 L395.5 1816.4 L395.7 1818.2 L395.9 1820.0 L396.0 1821.8 L396.2 1823.6 L396.4 1825.5 L396.6 1827.3 L396.8 1829.1 L397.0 1830.9 L397.1 1832.7 L397.3 1834.5 L397.5 1836.4 L397.7 1838.2 L397.9 1840.0 L398.0 1841.8 L398.2 1843.6 L398.4 1845.5 L398.6 1847.3 L398.8 1849.1 L398.9 1850.9 L399.1 1852.7 L399.3 1854.5 L399.5 1856.4 L399.6 1858.2 L399.8 1860.0 L400.0 1861.8 L400.2 1863.6 L400.4 1865.5 L400.5 1867.3 L400.7 1869.1 L400.9 1870.9 L401.1 1872.7 L401.2 1874.5 L401.4 1876.4 L401.6 1878.2 L401.7 1880.0 L401.9 1881.8 L402.1 1883.6 L402.3 1885.5 L402.4 1887.3 L402.6 1889.1 L402.8 1890.9 L402.9 1892.7 L403.1 1894.5 L403.3 1896.4 L403.4 1898.2 L403.6 1900.0 L403.8 1901.8 L404.0 1903.6 L404.1 1905.5 L404.3 1907.3 L404.5 1909.1 L404.6 1910.9 L404.8 1912.7 L404.9 1914.5 L405.1 1916.4 L405.3 1918.2 L405.4 1920.0 L405.6 1921.8 L405.8 1923.6 L405.9 1925.5 L406.1 1927.3 L406.2 1929.1 L406.4 1930.9 L406.6 1932.7 L406.7 1934.5 L406.9 1936.4 L407.0 1938.2 L407.2 1940.0 L407.4 1941.8 L407.5 1943.6 L407.7 1945.5 L407.8 1947.3 L408.0 1949.1 L408.1 1950.9 L408.3 1952.7 L408.5 1954.5 L408.6 1956.4 L408.8 1958.2 L408.9 1960.0 L409.1 1961.8 L409.2 1963.6 L409.4 1965.5 L409.5 1967.3 L409.7 1969.1 L409.8 1970.9 L410.7 1981.8" stroke="#008080"/>
<path d="M339.0 1078.2 L339.0 1080.0 L338.9 1081.8 L338.9 1083.6 L338.9 1085.5 L338.8 1087.3 L338.8 1089.1 L338.8 1090.9 L338.8 1092.7 L338.7 1094.5 L338.7 1096.4 L338.7 1098.2 L338.7 1100.0 L338.6 1101.8 L338.6 1103.6 L338.6 1105.5 L338.6 1107.3 L338.5 1109.1 L338.5 1110.9 L338.5 1112.7 L338.5 1114.5 L338.5 1116.4 L338.4 1118.2 L338.4 1120.0 L338.4 1121.8 L338.4 1123.6 L338.4 1125.5 L338.4 1127.3 L338.3 1129.1 L338.3 1130.9 L338.3 1132.7 L338.3 1134.5 L338.3 1136.4 L338.3 1138.2 L338.3 1140.0 L338.3 1141.8 L338.3 1143.6 L338.2 1145.5 L338.2 1147.3 L338.2 1149.1 L338.2 1150.9 L338.2 1152.7 L338.2 1154.5 L338.2 1156.4 L338.2 1158.2 L338.2 1160.0 L338.2 1161.8 L338.2 1163.6 L338.2 1165.5 L338.2 1167.3 L338.2 1169.1 L338.2 1170.9 L338.2 1172.7 L338.2 1174.5 L338.2 1176.4 L338.2 1178.2 L338.2 1180.0 L338.2 1181.8 L338.2 1183.6 L338.2 1185.5 L338.2 1187.3 L338.2 1189.1 L338.2 1190.9 L338.2 1192.7 L338.2 1194.5 L338.3 1196.4 L338.3 1198.2 L338.3 1200.0 L338.3 1201.8 L338.3 1203.6 L338.3 1205.5 L338.3 1207.3 L338.3 1209.1 L338.3 1210.9 L338.4 1212.7 L338.4 1214.5 L338.4 1216.4 L338.4 1218.2 L338.4 1220.0 L338.4 1221.8 L338.5 1223.6 L338.5 1225.5 L338.5 1227.3 L338.5 1229.1 L338.5 1230.9 L338.6 1232.7 L338.6 1234.5 L338.6 1236.4 L338.6 1238.2 L338.6 1240.0 L338.7 1241.8 L338.7 1243.6 L338.7 1245.5 L338.7 1247.3 L338.8 1249.1 L338.8 1250.9 L338.8 1252.7 L338.8 1254.5 L338.9 1256.4 L338.9 1258.2 L338.9 1260.0 L338.9 1261.8 L339.0 1263.6 L339.0 1265.5 L339.0 1267.3 L339.1 1269.1 L339.1 1270.9 L339.1 1272.7 L339.2 1274.5 L339.2 1276.4 L339.2 1278.2 L339.3 1280.0 L339.3 1281.8 L339.3 1283.6 L339.4 1285.5 L339.4 1287.3 L339.4 1289.1 L339.5 1290.9 L339.5 1292.7 L339.5 1294.5 L339.6 1296.4 L339.6 1298.2 L339.7 1300.0 L339.7 1301.8 L339.7 1303.6 L339.8 1305.5 L339.8 1307.3 L339.9 1309.1 L339.9 1310.9 L340.0 1312.7 L340.0 1314.5 L340.0 1316.4 L340.1 1318.2 L340.1 1320.0 L340.2 1321.8 L340.2 1323.6 L340.3 1325.5 L340.3 1327.3 L340.4 1329.1 L340.4 1330.9 L340.4 1332.7 L340.5 1334.5 L340.5 1336.4 L340.6 1338.2 L340.6 1340.0 L340.7 1341.8 L340.7 1343.6 L340.8 1345.5 L340.8 1347.3 L340.9 1349.1 L340.9 1350.9 L341.0 1352.7 L341.1 1354.5 L341.1 1356.4 L341.2 1358.2 L341.2 1360.0 L341.3 1361.8 L341.3 1363.6 L341.4 1365.5 L341.4 1367.3 L341.5 1369.1 L341.5 1370.9 L341.6 1372.7 L341.7 1374.5 L341.7 1376.4 L341.8 1378.2 L341.8 1380.0 L341.9 1381.8 L342.0 1383.6 L342.0 1385.5 L342.1 1387.3 L342.1 1389.1 L342.2 1390.9 L342.3 1392.7 L342.3 1394.5 L342.4 1396.4 L342.4 1398.2 L342.5 1400.0 L342.6 1401.8 L342.6 1403.6 L342.7 1405.5 L342.8 1407.3 L342.8 1409.1 L342.9 1410.9 L343.0 1412.7 L343.0 1414.5 L343.1 1416.4 L343.2 1418.2 L343.2 1420.0 L343.3 1421.8 L343.4 1423.6 L343.4 1425.5 L343.5 1427.3 L343.6 1429.1 L343.6 1430.9 L343.7 1432.7 L343.8 1434.5 L343.8 1436.4 L343.9 1438.2 L344.0 1440.0 L344.0 1441.8 L344.1 1443.6 L344.2 1445.5 L344.3 1447.3 L344.3 1449.1 L344.4 1450.9 L344.5 1452.7 L344.6 1454.5 L344.6 1456.4 L344.7 1458.2 L344.8 1460.0 L344.8 1461.8 L344.9 1463.6 L345.0 1465.5 L345.1 1467.3 L345.1 1469.1 L345.2 1470.9 L345.3 1472.7 L345.4 1474.5 L345.5 1476.4 L345.5 1478.2 L345.6 1480.0 L345.7 1481.8 L345.8 1483.6 L345.8 1485.5 L345.9 1487.3 L346.0 1489.1 L346.1 1490.9 L346.2 1492.7 L346.2 1494.5 L346.3 1496.4 L346.4 1498.2 L346.5 1500.0 L346.6 1501.8 L346.6 1503.6 L346.7 1505.5 L346.8 1507.3 L346.9 1509.1 L347.0 1510.9 L347.0 1512.7 L347.1 1514.5 L347.2 1516.4 L347.3 1518.2 L347.4 1520.0 L347.5 1521.8 L347.5 1523.6 L347.6 1525.5 L347.7 1527.3 L347.8 1529.1 L347.9 1530.9 L348.0 1532.7 L348.1 1534.5 L348.1 1536.4 L348.2 1538.2 L348.3 1540.0 L348.4 1541.8 L348.5 1543.6 L348.6 1545.5 L348.7 1547.3 L348.7 1549.1 L348.8 1550.9 L348.9 1552.7 L349.0 1554.5 L349.1 1556.4 L349.2 1558.2 L349.3 1560.0 L349.4 1561.8 L349.5 1563.6 L349.5 1565.5 L349.6 1567.3 L349.7 1569.1 L349.8 1570.9 L349.9 1572.7 L350.0 1574.5 L350.1 1576.4 L350.2 1578.2 L350.3 1580.0 L350.4 1581.8 L350.4 1583.6 L350.5 1585.5 L350.6 1587.3 L350.7 1589.1 L350.8 1590.9 L350.9 1592.7 L351.0 1594.5 L351.1 1596.4 L351.2 1598.2 L351.3 1600.0 L351.4 1601.8 L351.5 1603.6 L351.6 1605.5 L351.6 1607.3 L351.7 1609.1 L351.8 1610.9 L351.9 1612.7 L352.0 1614.5 L352.1 1616.4 L352.2 1618.2 L352.3 1620.0 L352.4 1621.8 L352.5 1623.6 L352.6 1625.5 L352.7 1627.3 L352.8 1629.1 L352.9 1630.9 L353.0 1632.7 L353.1 1634.5 L353.2 1636.4 L353.3 1638.2 L353.3 1640.0 L353.4 1641.8 L353.5 1643.6 L353.6 1645.5 L353.7 1647.3 L353.8 1649.1 L353.9 1650.9 L354.0 1652.7 L354.1 1654.5 L354.2 1656.4 L354.3 1658.2 L354.4 1660.0 L354.5 1661.8 L354.6 1663.6 L354.7 1665.5 L354.8 1667.3 L354.9 1669.1 L355.0 1670.9 L355.1 1672.7 L355.2 1674.5 L355.3 1676.4 L355.4 1678.2 L355.5 1680.0 L355.6 1681.8 L355.7 1683.6 L355.8 1685.5 L355.9 1687.3 L356.0 1689.1 L356.1 1690.9 L356.2 1692.7 L356.3 1694.5 L356.4 1696.4 L356.5 1698.2 L356.6 1700.0 L356.7 1701.8 L356.8 1703.6 L356.9 1705.5 L357.0 1707.3 L357.1 1709.1 L357.2 1710.9 L357.3 1712.7 L357.4 1714.5 L357.5 1716.4 L357.6 1718.2 L357.7 1720.0 L357.8 1721.8 L357.9 1723.6 L358.0 1725.5 L358.1 1727.3 L358.2 1729.1 L358.3 1730.9 L358.4 1732.7 L358.5 1734.5 L358.6 1736.4 L358.7 1738.2 L358.8 1740.0 L358.9 1741.8 L359.0 1743.6 L359.1 1745.5 L359.2 1747.3 L359.3 1749.1 L359.4 1750.9 L359.5 1752.7 L359.6 1754.5 L359.7 1756.4 L359.8 1758.2 L359.9 1760.0 L360.0 1761.8 L360.1 1763.6 L360.2 1765.5 L360.3 1767.3 L360.4 1769.1 L360.5 1770.9 L360.6 1772.7 L360.7 1774.5 L360.8 1776.4 L360.9 1778.2 L361.0 1780.0 L361.1 1781.8 L361.2 1783.6 L361.3 1785.5 L361.4 1787.3 L361.5 1789.1 L361.6 1790.9 L361.7 1792.7 L361.7 1794.5 L361.8 1796.4 L361.9 1798.2 L362.0 1800.0 L362.1 1801.8 L362.2 1803.6 L362.3 1805.5 L362.4 1807.3 L362.5 1809.1 L362.6 1810.9 L362.7 1812.7 L362.8 1814.5 L362.9 1816.4 L363.0 1818.2 L363.1 1820.0 L363.2 1821.8 L363.3 1823.6 L363.4 1825.5 L363.5 1827.3 L363.6 1829.1 L363.7 1830.9 L363.8 1832.7 L363.9 1834.5 L364.0 1836.4 L364.1 1838.2 L364.2 1840.0 L364.3 1841.8 L364.4 1843.6 L364.5 1845.5 L364.6 1847.3 L364.7 1849.1 L364.8 1850.9 L364.9 1852.7 L365.0 1854.5 L365.1 1856.4 L365.2 1858.2 L365.3 1860.0 L365.4 1861.8 L365.5 1863.6 L365.6 1865.5 L365.7 1867.3 L365.8 1869.1 L365.9 1870.9 L366.0 1872.7 L366.1 1874.5 L366.2 1876.4 L366.3 1878.2 L366.4 1880.0 L366.5 1881.8 L366.5 1883.6 L366.6 1885.5 L366.7 1887.3 L366.8 1889.1 L366.9 1890.9 L367.0 1892.7 L367.1 1894.5 L367.2 1896.4 L367.3 1898.2 L367.4 1900.0 L367.5 1901.8 L367.6 1903.6 L367.7 1905.5 L367.8 1907.3 L367.9 1909.1 L368.0 1910.9 L368.1 1912.7 L368.1 1914.5 L368.2 1916.4 L368.3 1918.2 L368.4 1920.0 L368.5 1921.8 L368.6 1923.6 L368.7 1925.5 L368.8 1927.3 L368.9 1929.1 L369.0 1930.9 L369.1 1932.7 L369.2 1934.5 L369.3 1936.4 L369.3 1938.2 L369.4 1940.0 L369.5 1941.8 L369.6 1943.6 L369.7 1945.5 L369.8 1947.3 L369.9 1949.1 L370.0 1950.9 L370.1 1952.7 L370.2 1954.5 L370.2 1956.4 L370.3 1958.2 L370.4 1959.1" stroke="#ff00ff"/>
</g></g>
<g clip-path="url(#cc)"><g transform="scale(1 1.1)" fill="none" stroke-width="12.4" stroke-linejoin="round" stroke-linecap="butt">
<path d="M337.5 2050.9 L337.5 2061.8 L338.6 2063.6 L339.7 2065.5 L340.8 2067.3 L341.9 2069.1 L343.1 2070.9 L344.3 2072.7 L345.5 2074.5 L346.6 2076.4 L347.9 2078.2 L349.1 2080.0 L350.3 2081.8 L351.6 2083.6 L352.9 2085.5 L354.1 2087.3 L355.4 2089.1 L356.8 2090.9 L358.1 2092.7 L359.4 2094.5 L360.8 2096.4 L362.1 2098.2 L363.5 2100.0 L364.9 2101.8 L366.3 2103.6 L367.8 2105.5 L369.2 2107.3 L370.7 2109.1 L372.1 2110.9 L373.6 2112.7 L375.1 2114.5 L376.6 2116.4 L378.1 2118.2 L379.6 2120.0 L381.2 2121.8 L382.7 2123.6 L384.3 2125.5 L385.9 2127.3 L387.5 2129.1 L389.1 2130.9 L390.7 2132.7 L392.3 2134.5 L394.0 2136.4 L395.6 2138.2 L397.3 2140.0 L399.0 2141.8 L400.7 2143.6 L402.4 2145.5 L404.1 2147.3 L405.8 2149.1 L407.6 2150.9 L409.3 2152.7 L411.1 2154.5 L412.9 2156.4 L414.7 2158.2 L416.5 2160.0 L418.3 2161.8 L420.1 2163.6 L421.9 2165.5 L423.8 2167.3 L425.6 2169.1 L427.5 2170.9 L429.4 2172.7 L431.2 2174.5 L433.1 2176.4 L435.0 2178.2 L437.0 2180.0 L438.9 2181.8 L440.8 2183.6 L442.8 2185.5 L444.7 2187.3 L446.7 2189.1 L448.7 2190.9 L450.7 2192.7 L452.7 2194.5 L454.7 2196.4 L456.7 2198.2 L458.7 2200.0 L460.8 2201.8 L462.8 2203.6 L464.9 2205.5 L466.9 2207.3 L469.0 2209.1 L471.1 2210.9 L473.2 2212.7 L475.3 2214.5 L477.4 2216.4 L479.5 2218.2 L481.6 2220.0 L483.8 2221.8 L485.9 2223.6 L488.1 2225.5 L490.2 2227.3 L492.4 2229.1 L494.6 2230.9 L496.8 2232.7 L499.0 2234.5 L501.2 2236.4 L503.4 2238.2 L505.6 2240.0 L507.8 2241.8 L510.1 2243.6 L512.3 2245.5 L514.6 2247.3 L516.8 2249.1 L519.1 2250.9 L521.4 2252.7 L523.7 2254.5 L526.0 2256.4 L528.3 2258.2 L530.6 2260.0 L532.9 2261.8 L535.2 2263.6 L537.5 2265.5 L539.8 2267.3 L542.2 2269.1 L544.5 2270.9 L546.9 2272.7 L549.2 2274.5 L551.6 2276.4 L554.0 2278.2 L556.3 2280.0 L558.7 2281.8 L561.1 2283.6 L563.5 2285.5 L565.9 2287.3 L568.3 2289.1 L570.7 2290.9 L573.2 2292.7 L575.6 2294.5 L578.0 2296.4 L580.5 2298.2 L582.9 2300.0 L585.4 2301.8 L587.8 2303.6 L590.3 2305.5 L592.7 2307.3 L595.2 2309.1 L597.7 2310.9 L600.2 2312.7 L602.6 2314.5 L605.1 2316.4 L607.6 2318.2 L610.1 2320.0 L612.6 2321.8 L615.2 2323.6 L617.7 2325.5 L620.2 2327.3 L622.7 2329.1 L625.2 2330.9 L627.8 2332.7 L630.3 2334.5 L632.9 2336.4 L635.4 2338.2 L638.0 2340.0 L640.5 2341.8 L643.1 2343.6 L645.6 2345.5 L648.2 2347.3 L650.8 2349.1 L653.4 2350.9 L655.9 2352.7 L658.5 2354.5 L661.1 2356.4 L663.7 2358.2 L666.3 2360.0 L668.9 2361.8 L671.5 2363.6 L674.1 2365.5 L676.7 2367.3 L679.3 2369.1 L681.9 2370.9 L684.6 2372.7 L687.2 2374.5 L689.8 2376.4 L692.4 2378.2 L695.1 2380.0 L697.7 2381.8 L700.3 2383.6 L703.0 2385.5 L705.6 2387.3 L708.3 2389.1 L710.9 2390.9 L713.6 2392.7 L716.2 2394.5 L718.9 2396.4 L721.5 2398.2 L724.2 2400.0 L726.8 2401.8 L729.5 2403.6 L732.2 2405.5 L734.8 2407.3 L737.5 2409.1 L740.2 2410.9 L742.9 2412.7 L745.5 2414.5 L748.2 2416.4 L750.9 2418.2 L753.6 2420.0 L756.2 2421.8 L758.9 2423.6 L761.6 2425.5 L764.3 2427.3 L767.0 2429.1 L769.7 2430.9 L772.4 2432.7 L775.0 2434.5 L777.7 2436.4 L780.4 2438.2 L783.1 2440.0 L785.8 2441.8 L788.5 2443.6 L791.2 2445.5 L793.9 2447.3 L796.6 2449.1 L799.3 2450.9 L802.0 2452.7 L804.7 2454.5 L807.4 2456.4 L810.1 2458.2 L812.8 2460.0 L815.5 2461.8 L818.2 2463.6 L820.9 2465.5 L823.6 2467.3 L826.3 2469.1 L829.0 2470.9 L831.7 2472.7 L834.4 2474.5 L837.1 2476.4 L839.8 2478.2 L842.5 2480.0 L845.2 2481.8 L847.9 2483.6 L850.5 2485.5 L853.2 2487.3 L855.9 2489.1 L858.6 2490.9 L861.3 2492.7 L864.0 2494.5 L866.7 2496.4 L869.4 2498.2 L872.1 2500.0 L874.8 2501.8 L877.4 2503.6 L880.1 2505.5 L882.8 2507.3 L885.5 2509.1 L888.2 2510.9 L890.8 2512.7 L893.5 2514.5 L896.2 2516.4 L898.9 2518.2 L901.5 2520.0 L904.2 2521.8 L906.9 2523.6 L909.5 2525.5 L912.2 2527.3 L914.8 2529.1 L917.5 2530.9 L920.2 2532.7 L922.8 2534.5 L925.5 2536.4 L928.1 2538.2 L930.8 2540.0 L933.4 2541.8 L936.0 2543.6 L938.7 2545.5 L941.3 2547.3 L943.9 2549.1 L946.6 2550.9 L949.2 2552.7 L951.8 2554.5 L954.4 2556.4 L957.0 2558.2 L959.7 2560.0 L962.3 2561.8 L964.9 2563.6 L967.5 2565.5 L970.1 2567.3 L972.7 2569.1 L975.3 2570.9 L977.9 2572.7 L980.4 2574.5 L983.0 2576.4 L985.6 2578.2 L988.2 2580.0 L990.7 2581.8 L993.3 2583.6 L995.9 2585.5 L998.4 2587.3 L1001.0 2589.1 L1003.5 2590.9 L1006.1 2592.7 L1008.6 2594.5 L1011.1 2596.4 L1013.7 2598.2 L1016.2 2600.0 L1018.7 2601.8 L1021.2 2603.6 L1023.8 2605.5 L1026.3 2607.3 L1028.8 2609.1 L1031.3 2610.9 L1033.8 2612.7 L1036.3 2614.5 L1038.8 2616.4 L1041.2 2618.2 L1043.7 2620.0 L1046.2 2621.8 L1048.7 2623.6 L1051.1 2625.5 L1053.6 2627.3 L1056.1 2629.1 L1058.5 2630.9 L1061.0 2632.7 L1063.4 2634.5 L1065.8 2636.4 L1068.3 2638.2 L1070.7 2640.0 L1073.1 2641.8 L1075.6 2643.6 L1078.0 2645.5 L1080.4 2647.3 L1082.8 2649.1 L1085.2 2650.9 L1087.6 2652.7 L1090.0 2654.5 L1092.4 2656.4 L1094.8 2658.2 L1097.2 2660.0 L1099.6 2661.8 L1102.0 2663.6 L1104.3 2665.5 L1106.7 2667.3 L1109.1 2669.1 L1111.5 2670.9 L1113.8 2672.7 L1116.2 2674.5 L1118.5 2676.4 L1120.9 2678.2 L1123.2 2680.0 L1125.5 2681.8 L1127.9 2683.6 L1130.2 2685.5 L1132.5 2687.3 L1134.9 2689.1 L1137.2 2690.9 L1139.5 2692.7 L1141.8 2694.5 L1144.1 2696.4 L1146.4 2698.2 L1148.7 2700.0 L1151.0 2701.8 L1153.3 2703.6 L1155.6 2705.5 L1157.9 2707.3 L1160.2 2709.1 L1162.4 2710.9 L1164.7 2712.7 L1167.0 2714.5 L1169.2 2716.4 L1171.5 2718.2 L1173.7 2720.0 L1176.0 2721.8 L1178.2 2723.6 L1180.5 2725.5 L1182.7 2727.3 L1185.0 2729.1 L1187.2 2730.9 L1189.4 2732.7 L1191.7 2734.5 L1193.9 2736.4 L1196.1 2738.2 L1198.3 2740.0 L1200.5 2741.8 L1202.7 2743.6 L1204.9 2745.5 L1207.1 2747.3 L1209.3 2749.1 L1211.5 2750.9 L1213.7 2752.7 L1215.9 2754.5 L1218.1 2756.4 L1220.2 2758.2 L1222.4 2760.0 L1224.6 2761.8 L1226.7 2763.6 L1228.9 2765.5 L1231.1 2767.3 L1233.2 2769.1 L1235.4 2770.9 L1237.5 2772.7 L1239.6 2774.5 L1241.8 2776.4 L1243.9 2778.2 L1246.0 2780.0 L1248.2 2781.8 L1250.3 2783.6 L1252.4 2785.5 L1254.5 2787.3 L1256.6 2789.1 L1258.8 2790.9 L1260.9 2792.7 L1263.0 2794.5 L1265.1 2796.4 L1267.2 2798.2 L1269.2 2800.0 L1271.3 2801.8 L1273.4 2803.6 L1275.5 2805.5 L1277.6 2807.3 L1279.6 2809.1 L1281.7 2810.9 L1283.8 2812.7 L1285.8 2814.5 L1287.9 2816.4 L1290.0 2818.2 L1292.0 2820.0 L1294.1 2821.8 L1296.1 2823.6 L1298.1 2825.5 L1300.2 2827.3 L1302.2 2829.1 L1304.2 2830.9 L1306.3 2832.7 L1308.3 2834.5 L1310.3 2836.4 L1312.3 2838.2 L1314.3 2840.0 L1316.4 2841.8 L1318.4 2843.6 L1320.4 2845.5 L1322.4 2847.3 L1324.4 2849.1 L1326.3 2850.9 L1328.3 2852.7 L1330.3 2854.5 L1332.3 2856.4 L1334.3 2858.2 L1336.3 2860.0 L1338.2 2861.8 L1340.2 2863.6 L1342.2 2865.5 L1344.1 2867.3 L1346.1 2869.1 L1348.0 2870.9 L1350.0 2872.7 L1351.9 2874.5 L1353.9 2876.4 L1355.8 2878.2 L1357.8 2880.0 L1359.7 2881.8 L1361.6 2883.6 L1363.6 2885.5 L1365.5 2887.3 L1367.4 2889.1 L1369.3 2890.9 L1371.2 2892.7 L1373.2 2894.5 L1375.1 2896.4 L1377.0 2898.2 L1378.9 2900.0 L1380.8 2901.8 L1382.7 2903.6 L1384.6 2905.5 L1386.4 2907.3 L1388.3 2909.1 L1390.2 2910.9 L1392.1 2912.7 L1394.0 2914.5 L1395.8 2916.4 L1397.7 2918.2 L1399.6 2920.0 L1401.4 2921.8 L1403.3 2923.6 L1405.2 2925.5 L1407.0 2927.3 L1408.9 2929.1 L1410.7 2930.9 L1412.6 2932.7 L1414.4 2934.5 L1416.2 2936.4 L1418.1 2938.2 L1419.9 2940.0 L1421.7 2941.8 L1423.6 2943.6 L1423.9 2944.0 L1432.0 2952.1" stroke="#000000"/>
<path d="M337.5 2050.9 L337.5 2072.7 L338.1 2074.5 L338.8 2076.4 L339.4 2078.2 L340.0 2080.0 L340.6 2081.8 L341.3 2083.6 L341.9 2085.5 L342.6 2087.3 L343.2 2089.1 L343.9 2090.9 L344.6 2092.7 L345.3 2094.5 L345.9 2096.4 L346.6 2098.2 L347.3 2100.0 L348.0 2101.8 L348.7 2103.6 L349.4 2105.5 L350.2 2107.3 L350.9 2109.1 L351.6 2110.9 L352.3 2112.7 L353.1 2114.5 L353.8 2116.4 L354.6 2118.2 L355.3 2120.0 L356.1 2121.8 L356.9 2123.6 L357.6 2125.5 L358.4 2127.3 L359.2 2129.1 L360.0 2130.9 L360.8 2132.7 L361.6 2134.5 L362.4 2136.4 L363.2 2138.2 L364.0 2140.0 L364.8 2141.8 L365.6 2143.6 L366.5 2145.5 L367.3 2147.3 L368.1 2149.1 L369.0 2150.9 L369.8 2152.7 L370.7 2154.5 L371.6 2156.4 L372.4 2158.2 L373.3 2160.0 L374.2 2161.8 L375.0 2163.6 L375.9 2165.5 L376.8 2167.3 L377.7 2169.1 L378.6 2170.9 L379.5 2172.7 L380.4 2174.5 L381.3 2176.4 L382.2 2178.2 L383.2 2180.0 L384.1 2181.8 L385.0 2183.6 L385.9 2185.5 L386.9 2187.3 L387.8 2189.1 L388.8 2190.9 L389.7 2192.7 L390.7 2194.5 L391.6 2196.4 L392.6 2198.2 L393.6 2200.0 L394.5 2201.8 L395.5 2203.6 L396.5 2205.5 L397.5 2207.3 L398.4 2209.1 L399.4 2210.9 L400.4 2212.7 L401.4 2214.5 L402.4 2216.4 L403.4 2218.2 L404.4 2220.0 L405.5 2221.8 L406.5 2223.6 L407.5 2225.5 L408.5 2227.3 L409.6 2229.1 L410.6 2230.9 L411.6 2232.7 L412.7 2234.5 L413.7 2236.4 L414.7 2238.2 L415.8 2240.0 L416.8 2241.8 L417.9 2243.6 L419.0 2245.5 L420.0 2247.3 L421.1 2249.1 L422.2 2250.9 L423.2 2252.7 L424.3 2254.5 L425.4 2256.4 L426.5 2258.2 L427.5 2260.0 L428.6 2261.8 L429.7 2263.6 L430.8 2265.5 L431.9 2267.3 L433.0 2269.1 L434.1 2270.9 L435.2 2272.7 L436.3 2274.5 L437.4 2276.4 L438.5 2278.2 L439.7 2280.0 L440.8 2281.8 L441.9 2283.6 L443.0 2285.5 L444.1 2287.3 L445.3 2289.1 L446.4 2290.9 L447.5 2292.7 L448.7 2294.5 L449.8 2296.4 L450.9 2298.2 L452.1 2300.0 L453.2 2301.8 L454.4 2303.6 L455.5 2305.5 L456.7 2307.3 L457.8 2309.1 L459.0 2310.9 L460.2 2312.7 L461.3 2314.5 L462.5 2316.4 L463.6 2318.2 L464.8 2320.0 L466.0 2321.8 L467.2 2323.6 L468.3 2325.5 L469.5 2327.3 L470.7 2329.1 L471.9 2330.9 L473.0 2332.7 L474.2 2334.5 L475.4 2336.4 L476.6 2338.2 L477.8 2340.0 L479.0 2341.8 L480.1 2343.6 L481.3 2345.5 L482.5 2347.3 L483.7 2349.1 L484.9 2350.9 L486.1 2352.7 L487.3 2354.5 L488.5 2356.4 L489.7 2358.2 L490.9 2360.0 L492.1 2361.8 L493.3 2363.6 L494.5 2365.5 L495.7 2367.3 L497.0 2369.1 L498.2 2370.9 L499.4 2372.7 L500.6 2374.5 L501.8 2376.4 L503.0 2378.2 L504.2 2380.0 L505.5 2381.8 L506.7 2383.6 L507.9 2385.5 L509.1 2387.3 L510.3 2389.1 L511.5 2390.9 L512.8 2392.7 L514.0 2394.5 L515.2 2396.4 L516.4 2398.2 L517.7 2400.0 L518.9 2401.8 L520.1 2403.6 L521.3 2405.5 L522.6 2407.3 L523.8 2409.1 L525.0 2410.9 L526.2 2412.7 L527.5 2414.5 L528.7 2416.4 L529.9 2418.2 L531.2 2420.0 L532.4 2421.8 L533.6 2423.6 L534.8 2425.5 L536.1 2427.3 L537.3 2429.1 L538.5 2430.9 L539.8 2432.7 L541.0 2434.5 L542.2 2436.4 L543.5 2438.2 L544.7 2440.0 L545.9 2441.8 L547.2 2443.6 L548.4 2445.5 L549.6 2447.3 L550.9 2449.1 L552.1 2450.9 L553.3 2452.7 L554.6 2454.5 L555.8 2456.4 L557.0 2458.2 L558.3 2460.0 L559.5 2461.8 L560.7 2463.6 L562.0 2465.5 L563.2 2467.3 L564.4 2469.1 L565.7 2470.9 L566.9 2472.7 L568.1 2474.5 L569.4 2476.4 L570.6 2478.2 L571.8 2480.0 L573.1 2481.8 L574.3 2483.6 L575.5 2485.5 L576.7 2487.3 L578.0 2489.1 L579.2 2490.9 L580.4 2492.7 L581.7 2494.5 L582.9 2496.4 L584.1 2498.2 L585.4 2500.0 L586.6 2501.8 L587.8 2503.6 L589.1 2505.5 L590.3 2507.3 L591.5 2509.1 L592.7 2510.9 L594.0 2512.7 L595.2 2514.5 L596.4 2516.4 L597.7 2518.2 L598.9 2520.0 L600.1 2521.8 L601.3 2523.6 L602.6 2525.5 L603.8 2527.3 L605.0 2529.1 L606.2 2530.9 L607.5 2532.7 L608.7 2534.5 L609.9 2536.4 L611.1 2538.2 L612.3 2540.0 L613.6 2541.8 L614.8 2543.6 L616.0 2545.5 L617.2 2547.3 L618.4 2549.1 L619.7 2550.9 L620.9 2552.7 L622.1 2554.5 L623.3 2556.4 L624.5 2558.2 L625.7 2560.0 L627.0 2561.8 L628.2 2563.6 L629.4 2565.5 L630.6 2567.3 L631.8 2569.1 L633.0 2570.9 L634.2 2572.7 L635.4 2574.5 L636.6 2576.4 L637.8 2578.2 L639.0 2580.0 L640.3 2581.8 L641.5 2583.6 L642.7 2585.5 L643.9 2587.3 L645.1 2589.1 L646.3 2590.9 L647.5 2592.7 L648.7 2594.5 L649.9 2596.4 L651.0 2598.2 L652.2 2600.0 L653.4 2601.8 L654.6 2603.6 L655.8 2605.5 L657.0 2607.3 L658.2 2609.1 L659.4 2610.9 L660.6 2612.7 L661.8 2614.5 L662.9 2616.4 L664.1 2618.2 L665.3 2620.0 L666.5 2621.8 L667.7 2623.6 L668.9 2625.5 L670.0 2627.3 L671.2 2629.1 L672.4 2630.9 L673.6 2632.7 L674.7 2634.5 L675.9 2636.4 L677.1 2638.2 L678.2 2640.0 L679.4 2641.8 L680.6 2643.6 L681.7 2645.5 L682.9 2647.3 L684.1 2649.1 L685.2 2650.9 L686.4 2652.7 L687.5 2654.5 L688.7 2656.4 L689.8 2658.2 L691.0 2660.0 L692.1 2661.8 L693.3 2663.6 L694.4 2665.5 L695.6 2667.3 L696.7 2669.1 L697.9 2670.9 L699.0 2672.7 L700.2 2674.5 L701.3 2676.4 L702.4 2678.2 L703.6 2680.0 L704.7 2681.8 L705.8 2683.6 L707.0 2685.5 L708.1 2687.3 L709.2 2689.1 L710.3 2690.9 L711.5 2692.7 L712.6 2694.5 L713.7 2696.4 L714.8 2698.2 L715.9 2700.0 L717.1 2701.8 L718.2 2703.6 L719.3 2705.5 L720.4 2707.3 L721.5 2709.1 L722.6 2710.9 L723.7 2712.7 L724.8 2714.5 L725.9 2716.4 L727.0 2718.2 L728.1 2720.0 L729.2 2721.8 L730.3 2723.6 L731.4 2725.5 L732.5 2727.3 L733.5 2729.1 L734.6 2730.9 L735.7 2732.7 L736.8 2734.5 L737.9 2736.4 L738.9 2738.2 L740.0 2740.0 L741.1 2741.8 L742.2 2743.6 L743.2 2745.5 L744.3 2747.3 L745.3 2749.1 L746.4 2750.9 L747.5 2752.7 L748.5 2754.5 L749.6 2756.4 L750.6 2758.2 L751.7 2760.0 L752.7 2761.8 L753.8 2763.6 L754.8 2765.5 L755.8 2767.3 L756.9 2769.1 L757.9 2770.9 L758.9 2772.7 L760.0 2774.5 L761.0 2776.4 L762.0 2778.2 L763.1 2780.0 L764.1 2781.8 L765.1 2783.6 L766.1 2785.5 L767.1 2787.3 L768.1 2789.1 L769.1 2790.9 L770.2 2792.7 L771.2 2794.5 L772.2 2796.4 L773.2 2798.2 L774.2 2800.0 L775.2 2801.8 L776.1 2803.6 L777.1 2805.5 L778.1 2807.3 L779.1 2809.1 L780.1 2810.9 L781.1 2812.7 L782.1 2814.5 L783.0 2816.4 L784.0 2818.2 L785.0 2820.0 L786.0 2821.8 L786.9 2823.6 L787.9 2825.5 L788.9 2827.3 L789.9 2829.1 L790.8 2830.9 L791.8 2832.7 L792.7 2834.5 L793.7 2836.4 L794.7 2838.2 L795.6 2840.0 L796.6 2841.8 L797.5 2843.6 L798.5 2845.5 L799.4 2847.3 L800.4 2849.1 L801.3 2850.9 L802.2 2852.7 L803.2 2854.5 L804.1 2856.4 L805.1 2858.2 L806.0 2860.0 L806.9 2861.8 L807.9 2863.6 L808.8 2865.5 L809.7 2867.3 L810.7 2869.1 L811.6 2870.9 L812.5 2872.7 L813.4 2874.5 L814.4 2876.4 L815.3 2878.2 L816.2 2880.0 L817.1 2881.8 L818.0 2883.6 L819.0 2885.5 L819.9 2887.3 L820.8 2889.1 L821.7 2890.9 L822.6 2892.7 L823.5 2894.5 L824.4 2896.4 L825.3 2898.2 L826.2 2900.0 L827.1 2901.8 L828.0 2903.6 L828.9 2905.5 L829.8 2907.3 L830.7 2909.1 L831.6 2910.9 L832.5 2912.7 L833.4 2914.5 L834.3 2916.4 L835.2 2918.2 L836.1 2920.0 L837.0 2921.8 L837.9 2923.6 L838.8 2925.5 L839.7 2927.3 L840.6 2929.1 L841.5 2930.9 L842.3 2932.7 L843.2 2934.5 L844.1 2936.4 L845.0 2938.2 L845.9 2940.0 L846.8 2941.8 L847.6 2943.6 L848.5 2945.5 L849.0 2946.4 L853.8 2956.3" stroke="#ff0000"/>
<path d="M337.5 2050.9 L337.5 2095.5 L337.7 2097.3 L338.0 2099.1 L338.2 2100.9 L338.5 2102.7 L338.7 2104.5 L339.0 2106.4 L339.2 2108.2 L339.5 2110.0 L339.8 2111.8 L340.0 2113.6 L340.3 2115.5 L340.5 2117.3 L340.8 2119.1 L341.1 2120.9 L341.3 2122.7 L341.6 2124.5 L341.8 2126.4 L342.1 2128.2 L342.4 2130.0 L342.6 2131.8 L342.9 2133.6 L343.2 2135.5 L343.4 2137.3 L343.7 2139.1 L344.0 2140.9 L344.2 2142.7 L344.5 2144.5 L344.8 2146.4 L345.0 2148.2 L345.3 2150.0 L345.6 2151.8 L345.9 2153.6 L346.1 2155.5 L346.4 2157.3 L346.7 2159.1 L346.9 2160.9 L347.2 2162.7 L347.5 2164.5 L347.7 2166.4 L348.0 2168.2 L348.3 2170.0 L348.5 2171.8 L348.8 2173.6 L349.1 2175.5 L349.3 2177.3 L349.6 2179.1 L349.9 2180.9 L350.1 2182.7 L350.4 2184.5 L350.7 2186.4 L350.9 2188.2 L351.2 2190.0 L351.5 2191.8 L351.7 2193.6 L352.0 2195.5 L352.3 2197.3 L352.5 2199.1 L352.8 2200.9 L353.1 2202.7 L353.3 2204.5 L353.6 2206.4 L353.8 2208.2 L354.1 2210.0 L354.4 2211.8 L354.6 2213.6 L354.9 2215.5 L355.1 2217.3 L355.4 2219.1 L355.7 2220.9 L355.9 2222.7 L356.2 2224.5 L356.4 2226.4 L356.7 2228.2 L356.9 2230.0 L357.2 2231.8 L357.4 2233.6 L357.7 2235.5 L357.9 2237.3 L358.2 2239.1 L358.4 2240.9 L358.7 2242.7 L358.9 2244.5 L359.2 2246.4 L359.4 2248.2 L359.7 2250.0 L359.9 2251.8 L360.2 2253.6 L360.4 2255.5 L360.7 2257.3 L360.9 2259.1 L361.2 2260.9 L361.5 2262.7 L361.7 2264.5 L362.0 2266.4 L362.2 2268.2 L362.5 2270.0 L362.7 2271.8 L363.0 2273.6 L363.3 2275.5 L363.5 2277.3 L363.8 2279.1 L364.0 2280.9 L364.3 2282.7 L364.6 2284.5 L364.8 2286.4 L365.1 2288.2 L365.4 2290.0 L365.7 2291.8 L365.9 2293.6 L366.2 2295.5 L366.5 2297.3 L366.8 2299.1 L367.1 2300.9 L367.4 2302.7 L367.7 2304.5 L368.0 2306.4 L368.3 2308.2 L368.6 2310.0 L368.9 2311.8 L369.2 2313.6 L369.5 2315.5 L369.8 2317.3 L370.1 2319.1 L370.4 2320.9 L370.8 2322.7 L371.1 2324.5 L371.4 2326.4 L371.8 2328.2 L372.1 2330.0 L372.4 2331.8 L372.8 2333.6 L373.1 2335.5 L373.5 2337.3 L373.8 2339.1 L374.2 2340.9 L374.6 2342.7 L374.9 2344.5 L375.3 2346.4 L375.6 2348.2 L376.0 2350.0 L376.4 2351.8 L376.8 2353.6 L377.1 2355.5 L377.5 2357.3 L377.9 2359.1 L378.3 2360.9 L378.7 2362.7 L379.0 2364.5 L379.4 2366.4 L379.8 2368.2 L380.2 2370.0 L380.6 2371.8 L381.0 2373.6 L381.4 2375.5 L381.8 2377.3 L382.2 2379.1 L382.6 2380.9 L383.0 2382.7 L383.4 2384.5 L383.8 2386.4 L384.2 2388.2 L384.6 2390.0 L385.0 2391.8 L385.4 2393.6 L385.8 2395.5 L386.2 2397.3 L386.6 2399.1 L387.0 2400.9 L387.4 2402.7 L387.8 2404.5 L388.2 2406.4 L388.6 2408.2 L389.0 2410.0 L389.4 2411.8 L389.8 2413.6 L390.2 2415.5 L390.6 2417.3 L391.0 2419.1 L391.5 2420.9 L391.9 2422.7 L392.3 2424.5 L392.7 2426.4 L393.1 2428.2 L393.5 2430.0 L393.9 2431.8 L394.3 2433.6 L394.7 2435.5 L395.1 2437.3 L395.5 2439.1 L395.9 2440.9 L396.3 2442.7 L396.7 2444.5 L397.1 2446.4 L397.5 2448.2 L397.9 2450.0 L398.3 2451.8 L398.7 2453.6 L399.1 2455.5 L399.5 2457.3 L400.0 2459.1 L400.4 2460.9 L400.8 2462.7 L401.2 2464.5 L401.6 2466.4 L402.0 2468.2 L402.4 2470.0 L402.8 2471.8 L403.2 2473.6 L403.6 2475.5 L404.0 2477.3 L404.4 2479.1 L404.8 2480.9 L405.2 2482.7 L405.6 2484.5 L406.0 2486.4 L406.4 2488.2 L406.8 2490.0 L407.2 2491.8 L407.6 2493.6 L408.0 2495.5 L408.4 2497.3 L408.8 2499.1 L409.2 2500.9 L409.6 2502.7 L410.0 2504.5 L410.4 2506.4 L410.8 2508.2 L411.2 2510.0 L411.6 2511.8 L412.0 2513.6 L412.4 2515.5 L412.8 2517.3 L413.2 2519.1 L413.6 2520.9 L414.0 2522.7 L414.4 2524.5 L414.8 2526.4 L415.2 2528.2 L415.5 2530.0 L415.9 2531.8 L416.3 2533.6 L416.7 2535.5 L417.1 2537.3 L417.5 2539.1 L417.9 2540.9 L418.3 2542.7 L418.7 2544.5 L419.1 2546.4 L419.5 2548.2 L419.9 2550.0 L420.3 2551.8 L420.7 2553.6 L421.1 2555.5 L421.4 2557.3 L421.8 2559.1 L422.2 2560.9 L422.6 2562.7 L423.0 2564.5 L423.4 2566.4 L423.8 2568.2 L424.2 2570.0 L424.6 2571.8 L425.0 2573.6 L425.3 2575.5 L425.7 2577.3 L426.1 2579.1 L426.5 2580.9 L426.9 2582.7 L427.3 2584.5 L427.7 2586.4 L428.0 2588.2 L428.4 2590.0 L428.8 2591.8 L429.2 2593.6 L429.6 2595.5 L430.0 2597.3 L430.3 2599.1 L430.7 2600.9 L431.1 2602.7 L431.5 2604.5 L431.9 2606.4 L432.3 2608.2 L432.6 2610.0 L433.0 2611.8 L433.4 2613.6 L433.8 2615.5 L434.2 2617.3 L434.5 2619.1 L434.9 2620.9 L435.3 2622.7 L435.7 2624.5 L436.0 2626.4 L436.4 2628.2 L436.8 2630.0 L437.2 2631.8 L437.5 2633.6 L437.9 2635.5 L438.3 2637.3 L438.7 2639.1 L439.0 2640.9 L439.4 2642.7 L439.8 2644.5 L440.2 2646.4 L440.5 2648.2 L440.9 2650.0 L441.3 2651.8 L441.6 2653.6 L442.0 2655.5 L442.4 2657.3 L442.7 2659.1 L443.1 2660.9 L443.5 2662.7 L443.8 2664.5 L444.2 2666.4 L444.6 2668.2 L444.9 2670.0 L445.3 2671.8 L445.7 2673.6 L446.0 2675.5 L446.4 2677.3 L446.8 2679.1 L447.1 2680.9 L447.5 2682.7 L447.8 2684.5 L448.2 2686.4 L448.6 2688.2 L448.9 2690.0 L449.3 2691.8 L449.6 2693.6 L450.0 2695.5 L450.3 2697.3 L450.7 2699.1 L451.1 2700.9 L451.4 2702.7 L451.8 2704.5 L452.1 2706.4 L452.5 2708.2 L452.8 2710.0 L453.2 2711.8 L453.5 2713.6 L453.9 2715.5 L454.2 2717.3 L454.6 2719.1 L454.9 2720.9 L455.3 2722.7 L455.6 2724.5 L456.0 2726.4 L456.3 2728.2 L456.7 2730.0 L457.0 2731.8 L457.3 2733.6 L457.7 2735.5 L458.0 2737.3 L458.4 2739.1 L458.7 2740.9 L459.0 2742.7 L459.4 2744.5 L459.7 2746.4 L460.1 2748.2 L460.4 2750.0 L460.7 2751.8 L461.1 2753.6 L461.4 2755.5 L461.8 2757.3 L462.1 2759.1 L462.4 2760.9 L462.8 2762.7 L463.1 2764.5 L463.4 2766.4 L463.7 2768.2 L464.1 2770.0 L464.4 2771.8 L464.7 2773.6 L465.1 2775.5 L465.4 2777.3 L465.7 2779.1 L466.0 2780.9 L466.4 2782.7 L466.7 2784.5 L467.0 2786.4 L467.3 2788.2 L467.7 2790.0 L468.0 2791.8 L468.3 2793.6 L468.6 2795.5 L468.9 2797.3 L469.3 2799.1 L469.6 2800.9 L469.9 2802.7 L470.2 2804.5 L470.5 2806.4 L470.8 2808.2 L471.1 2810.0 L471.5 2811.8 L471.8 2813.6 L472.1 2815.5 L472.4 2817.3 L472.7 2819.1 L473.0 2820.9 L473.3 2822.7 L473.6 2824.5 L473.9 2826.4 L474.2 2828.2 L474.5 2830.0 L474.8 2831.8 L475.2 2833.6 L475.5 2835.5 L475.8 2837.3 L476.1 2839.1 L476.4 2840.9 L476.7 2842.7 L476.9 2844.5 L477.2 2846.4 L477.5 2848.2 L477.8 2850.0 L478.1 2851.8 L478.4 2853.6 L478.7 2855.5 L479.0 2857.3 L479.3 2859.1 L479.6 2860.9 L479.9 2862.7 L480.2 2864.5 L480.5 2866.4 L480.7 2868.2 L481.0 2870.0 L481.3 2871.8 L481.6 2873.6 L481.9 2875.5 L482.2 2877.3 L482.4 2879.1 L482.7 2880.9 L483.0 2882.7 L483.3 2884.5 L483.5 2886.4 L483.8 2888.2 L484.1 2890.0 L484.4 2891.8 L484.6 2893.6 L484.9 2895.5 L485.2 2897.3 L485.5 2899.1 L485.7 2900.9 L486.0 2902.7 L486.3 2904.5 L486.5 2906.4 L486.8 2908.2 L487.1 2910.0 L487.3 2911.8 L487.6 2913.6 L487.8 2915.5 L488.1 2917.3 L488.4 2919.1 L488.6 2920.9 L488.9 2922.7 L489.1 2924.5 L489.4 2926.4 L489.6 2928.2 L489.9 2930.0 L490.2 2931.8 L490.4 2933.6 L490.7 2935.5 L490.9 2937.3 L491.1 2939.1 L491.4 2940.9 L491.6 2942.7 L491.9 2944.5 L492.1 2946.4 L493.6 2957.2" stroke="#0000ff"/>
<path d="M337.5 2050.9 L337.5 2161.8 L337.7 2163.6 L337.9 2165.5 L338.1 2167.3 L338.2 2169.1 L338.4 2170.9 L338.6 2172.7 L338.8 2174.5 L339.0 2176.4 L339.2 2178.2 L339.4 2180.0 L339.6 2181.8 L339.7 2183.6 L339.9 2185.5 L340.1 2187.3 L340.3 2189.1 L340.5 2190.9 L340.7 2192.7 L340.9 2194.5 L341.1 2196.4 L341.3 2198.2 L341.5 2200.0 L341.7 2201.8 L341.8 2203.6 L342.0 2205.5 L342.2 2207.3 L342.4 2209.1 L342.6 2210.9 L342.8 2212.7 L343.0 2214.5 L343.2 2216.4 L343.4 2218.2 L343.6 2220.0 L343.8 2221.8 L344.0 2223.6 L344.2 2225.5 L344.4 2227.3 L344.6 2229.1 L344.8 2230.9 L345.0 2232.7 L345.2 2234.5 L345.4 2236.4 L345.6 2238.2 L345.8 2240.0 L346.0 2241.8 L346.2 2243.6 L346.4 2245.5 L346.6 2247.3 L346.8 2249.1 L347.0 2250.9 L347.2 2252.7 L347.4 2254.5 L347.6 2256.4 L347.8 2258.2 L348.0 2260.0 L348.2 2261.8 L348.4 2263.6 L348.6 2265.5 L348.8 2267.3 L349.0 2269.1 L349.2 2270.9 L349.4 2272.7 L349.6 2274.5 L349.8 2276.4 L350.0 2278.2 L350.3 2280.0 L350.5 2281.8 L350.7 2283.6 L350.9 2285.5 L351.1 2287.3 L351.3 2289.1 L351.5 2290.9 L351.7 2292.7 L351.9 2294.5 L352.1 2296.4 L352.3 2298.2 L352.5 2300.0 L352.8 2301.8 L353.0 2303.6 L353.2 2305.5 L353.4 2307.3 L353.6 2309.1 L353.8 2310.9 L354.0 2312.7 L354.2 2314.5 L354.4 2316.4 L354.6 2318.2 L354.9 2320.0 L355.1 2321.8 L355.3 2323.6 L355.5 2325.5 L355.7 2327.3 L355.9 2329.1 L356.1 2330.9 L356.4 2332.7 L356.6 2334.5 L356.8 2336.4 L357.0 2338.2 L357.2 2340.0 L357.4 2341.8 L357.6 2343.6 L357.9 2345.5 L358.1 2347.3 L358.3 2349.1 L358.5 2350.9 L358.7 2352.7 L358.9 2354.5 L359.1 2356.4 L359.4 2358.2 L359.6 2360.0 L359.8 2361.8 L360.0 2363.6 L360.2 2365.5 L360.4 2367.3 L360.7 2369.1 L360.9 2370.9 L361.1 2372.7 L361.3 2374.5 L361.5 2376.4 L361.7 2378.2 L362.0 2380.0 L362.2 2381.8 L362.4 2383.6 L362.6 2385.5 L362.8 2387.3 L363.1 2389.1 L363.3 2390.9 L363.5 2392.7 L363.7 2394.5 L363.9 2396.4 L364.1 2398.2 L364.4 2400.0 L364.6 2401.8 L364.8 2403.6 L365.0 2405.5 L365.2 2407.3 L365.5 2409.1 L365.7 2410.9 L365.9 2412.7 L366.1 2414.5 L366.3 2416.4 L366.6 2418.2 L366.8 2420.0 L367.0 2421.8 L367.2 2423.6 L367.4 2425.5 L367.7 2427.3 L367.9 2429.1 L368.1 2430.9 L368.3 2432.7 L368.5 2434.5 L368.8 2436.4 L369.0 2438.2 L369.2 2440.0 L369.4 2441.8 L369.7 2443.6 L369.9 2445.5 L370.1 2447.3 L370.3 2449.1 L370.5 2450.9 L370.8 2452.7 L371.0 2454.5 L371.2 2456.4 L371.4 2458.2 L371.6 2460.0 L371.9 2461.8 L372.1 2463.6 L372.3 2465.5 L372.5 2467.3 L372.8 2469.1 L373.0 2470.9 L373.2 2472.7 L373.4 2474.5 L373.6 2476.4 L373.9 2478.2 L374.1 2480.0 L374.3 2481.8 L374.5 2483.6 L374.7 2485.5 L375.0 2487.3 L375.2 2489.1 L375.4 2490.9 L375.6 2492.7 L375.9 2494.5 L376.1 2496.4 L376.3 2498.2 L376.5 2500.0 L376.7 2501.8 L377.0 2503.6 L377.2 2505.5 L377.4 2507.3 L377.6 2509.1 L377.8 2510.9 L378.1 2512.7 L378.3 2514.5 L378.5 2516.4 L378.7 2518.2 L378.9 2520.0 L379.2 2521.8 L379.4 2523.6 L379.6 2525.5 L379.8 2527.3 L380.1 2529.1 L380.3 2530.9 L380.5 2532.7 L380.7 2534.5 L380.9 2536.4 L381.2 2538.2 L381.4 2540.0 L381.6 2541.8 L381.8 2543.6 L382.0 2545.5 L382.3 2547.3 L382.5 2549.1 L382.7 2550.9 L382.9 2552.7 L383.1 2554.5 L383.3 2556.4 L383.6 2558.2 L383.8 2560.0 L384.0 2561.8 L384.2 2563.6 L384.4 2565.5 L384.7 2567.3 L384.9 2569.1 L385.1 2570.9 L385.3 2572.7 L385.5 2574.5 L385.7 2576.4 L386.0 2578.2 L386.2 2580.0 L386.4 2581.8 L386.6 2583.6 L386.8 2585.5 L387.1 2587.3 L387.3 2589.1 L387.5 2590.9 L387.7 2592.7 L387.9 2594.5 L388.1 2596.4 L388.3 2598.2 L388.6 2600.0 L388.8 2601.8 L389.0 2603.6 L389.2 2605.5 L389.4 2607.3 L389.6 2609.1 L389.9 2610.9 L390.1 2612.7 L390.3 2614.5 L390.5 2616.4 L390.7 2618.2 L390.9 2620.0 L391.1 2621.8 L391.4 2623.6 L391.6 2625.5 L391.8 2627.3 L392.0 2629.1 L392.2 2630.9 L392.4 2632.7 L392.6 2634.5 L392.8 2636.4 L393.1 2638.2 L393.3 2640.0 L393.5 2641.8 L393.7 2643.6 L393.9 2645.5 L394.1 2647.3 L394.3 2649.1 L394.5 2650.9 L394.7 2652.7 L394.9 2654.5 L395.2 2656.4 L395.4 2658.2 L395.6 2660.0 L395.8 2661.8 L396.0 2663.6 L396.2 2665.5 L396.4 2667.3 L396.6 2669.1 L396.8 2670.9 L397.0 2672.7 L397.2 2674.5 L397.4 2676.4 L397.6 2678.2 L397.9 2680.0 L398.1 2681.8 L398.3 2683.6 L398.5 2685.5 L398.7 2687.3 L398.9 2689.1 L399.1 2690.9 L399.3 2692.7 L399.5 2694.5 L399.7 2696.4 L399.9 2698.2 L400.1 2700.0 L400.3 2701.8 L400.5 2703.6 L400.7 2705.5 L400.9 2707.3 L401.1 2709.1 L401.3 2710.9 L401.5 2712.7 L401.7 2714.5 L401.9 2716.4 L402.1 2718.2 L402.3 2720.0 L402.5 2721.8 L402.7 2723.6 L402.9 2725.5 L403.1 2727.3 L403.3 2729.1 L403.5 2730.9 L403.7 2732.7 L403.9 2734.5 L404.1 2736.4 L404.3 2738.2 L404.5 2740.0 L404.7 2741.8 L404.9 2743.6 L405.0 2745.5 L405.2 2747.3 L405.4 2749.1 L405.6 2750.9 L405.8 2752.7 L406.0 2754.5 L406.2 2756.4 L406.4 2758.2 L406.6 2760.0 L406.8 2761.8 L407.0 2763.6 L407.2 2765.5 L407.3 2767.3 L407.5 2769.1 L407.7 2770.9 L407.9 2772.7 L408.1 2774.5 L408.3 2776.4 L408.5 2778.2 L408.7 2780.0 L408.8 2781.8 L409.0 2783.6 L409.2 2785.5 L409.4 2787.3 L409.6 2789.1 L409.8 2790.9 L410.0 2792.7 L410.1 2794.5 L410.3 2796.4 L410.5 2798.2 L410.7 2800.0 L410.9 2801.8 L411.0 2803.6 L411.2 2805.5 L411.4 2807.3 L411.6 2809.1 L411.8 2810.9 L411.9 2812.7 L412.1 2814.5 L412.3 2816.4 L412.5 2818.2 L412.6 2820.0 L412.8 2821.8 L413.0 2823.6 L413.2 2825.5 L413.4 2827.3 L413.5 2829.1 L413.7 2830.9 L413.9 2832.7 L414.0 2834.5 L414.2 2836.4 L414.4 2838.2 L414.6 2840.0 L414.7 2841.8 L414.9 2843.6 L415.1 2845.5 L415.2 2847.3 L415.4 2849.1 L415.6 2850.9 L415.7 2852.7 L415.9 2854.5 L416.1 2856.4 L416.2 2858.2 L416.4 2860.0 L416.6 2861.8 L416.7 2863.6 L416.9 2865.5 L417.1 2867.3 L417.2 2869.1 L417.4 2870.9 L417.6 2872.7 L417.7 2874.5 L417.9 2876.4 L418.0 2878.2 L418.2 2880.0 L418.3 2881.8 L418.5 2883.6 L418.7 2885.5 L418.8 2887.3 L419.0 2889.1 L419.1 2890.9 L419.3 2892.7 L419.4 2894.5 L419.6 2896.4 L419.8 2898.2 L419.9 2900.0 L420.1 2901.8 L420.2 2903.6 L420.4 2905.5 L420.5 2907.3 L420.7 2909.1 L420.8 2910.9 L421.0 2912.7 L421.1 2914.5 L421.3 2916.4 L421.4 2918.2 L421.6 2920.0 L421.7 2921.8 L421.8 2923.6 L422.0 2925.5 L422.1 2927.3 L422.3 2929.1 L422.4 2930.9 L422.6 2932.7 L422.7 2934.5 L422.8 2936.4 L423.0 2938.2 L423.1 2940.0 L423.3 2941.8 L423.4 2943.6 L423.5 2945.5 L423.6 2946.4 L424.4 2957.2" stroke="#008080"/>
<path d="M337.5 2050.9 L337.5 2052.7 L337.5 2054.5 L337.5 2056.4 L337.5 2058.2 L337.5 2060.0 L337.5 2061.8 L337.5 2063.6 L337.5 2065.5 L337.5 2067.3 L337.5 2069.1 L337.5 2070.9 L337.5 2072.7 L337.5 2074.5 L337.5 2076.4 L337.5 2078.2 L337.5 2080.0 L337.5 2081.8 L337.5 2083.6 L337.5 2085.5 L337.5 2087.3 L337.5 2089.1 L337.5 2090.9 L337.5 2092.7 L337.5 2094.5 L337.6 2096.4 L337.6 2098.2 L337.6 2100.0 L337.6 2101.8 L337.6 2103.6 L337.6 2105.5 L337.6 2107.3 L337.7 2109.1 L337.7 2110.9 L337.7 2112.7 L337.7 2114.5 L337.7 2116.4 L337.8 2118.2 L337.8 2120.0 L337.8 2121.8 L337.8 2123.6 L337.8 2125.5 L337.9 2127.3 L337.9 2129.1 L337.9 2130.9 L337.9 2132.7 L338.0 2134.5 L338.0 2136.4 L338.0 2138.2 L338.1 2140.0 L338.1 2141.8 L338.1 2143.6 L338.2 2145.5 L338.2 2147.3 L338.2 2149.1 L338.3 2150.9 L338.3 2152.7 L338.3 2154.5 L338.4 2156.4 L338.4 2158.2 L338.4 2160.0 L338.5 2161.8 L338.5 2163.6 L338.5 2165.5 L338.6 2167.3 L338.6 2169.1 L338.7 2170.9 L338.7 2172.7 L338.7 2174.5 L338.8 2176.4 L338.8 2178.2 L338.9 2180.0 L338.9 2181.8 L339.0 2183.6 L339.0 2185.5 L339.1 2187.3 L339.1 2189.1 L339.2 2190.9 L339.2 2192.7 L339.3 2194.5 L339.3 2196.4 L339.4 2198.2 L339.4 2200.0 L339.5 2201.8 L339.5 2203.6 L339.6 2205.5 L339.6 2207.3 L339.7 2209.1 L339.7 2210.9 L339.8 2212.7 L339.8 2214.5 L339.9 2216.4 L340.0 2218.2 L340.0 2220.0 L340.1 2221.8 L340.1 2223.6 L340.2 2225.5 L340.3 2227.3 L340.3 2229.1 L340.4 2230.9 L340.4 2232.7 L340.5 2234.5 L340.6 2236.4 L340.6 2238.2 L340.7 2240.0 L340.8 2241.8 L340.8 2243.6 L340.9 2245.5 L341.0 2247.3 L341.0 2249.1 L341.1 2250.9 L341.2 2252.7 L341.2 2254.5 L341.3 2256.4 L341.4 2258.2 L341.4 2260.0 L341.5 2261.8 L341.6 2263.6 L341.6 2265.5 L341.7 2267.3 L341.8 2269.1 L341.9 2270.9 L341.9 2272.7 L342.0 2274.5 L342.1 2276.4 L342.2 2278.2 L342.2 2280.0 L342.3 2281.8 L342.4 2283.6 L342.5 2285.5 L342.5 2287.3 L342.6 2289.1 L342.7 2290.9 L342.8 2292.7 L342.9 2294.5 L342.9 2296.4 L343.0 2298.2 L343.1 2300.0 L343.2 2301.8 L343.3 2303.6 L343.3 2305.5 L343.4 2307.3 L343.5 2309.1 L343.6 2310.9 L343.7 2312.7 L343.8 2314.5 L343.9 2316.4 L343.9 2318.2 L344.0 2320.0 L344.1 2321.8 L344.2 2323.6 L344.3 2325.5 L344.4 2327.3 L344.5 2329.1 L344.6 2330.9 L344.6 2332.7 L344.7 2334.5 L344.8 2336.4 L344.9 2338.2 L345.0 2340.0 L345.1 2341.8 L345.2 2343.6 L345.3 2345.5 L345.4 2347.3 L345.5 2349.1 L345.6 2350.9 L345.6 2352.7 L345.7 2354.5 L345.8 2356.4 L345.9 2358.2 L346.0 2360.0 L346.1 2361.8 L346.2 2363.6 L346.3 2365.5 L346.4 2367.3 L346.5 2369.1 L346.6 2370.9 L346.7 2372.7 L346.8 2374.5 L346.9 2376.4 L347.0 2378.2 L347.1 2380.0 L347.2 2381.8 L347.3 2383.6 L347.4 2385.5 L347.5 2387.3 L347.6 2389.1 L347.7 2390.9 L347.8 2392.7 L347.9 2394.5 L348.0 2396.4 L348.1 2398.2 L348.2 2400.0 L348.3 2401.8 L348.4 2403.6 L348.5 2405.5 L348.6 2407.3 L348.7 2409.1 L348.8 2410.9 L348.9 2412.7 L349.0 2414.5 L349.1 2416.4 L349.2 2418.2 L349.4 2420.0 L349.5 2421.8 L349.6 2423.6 L349.7 2425.5 L349.8 2427.3 L349.9 2429.1 L350.0 2430.9 L350.1 2432.7 L350.2 2434.5 L350.3 2436.4 L350.4 2438.2 L350.5 2440.0 L350.6 2441.8 L350.8 2443.6 L350.9 2445.5 L351.0 2447.3 L351.1 2449.1 L351.2 2450.9 L351.3 2452.7 L351.4 2454.5 L351.5 2456.4 L351.6 2458.2 L351.8 2460.0 L351.9 2461.8 L352.0 2463.6 L352.1 2465.5 L352.2 2467.3 L352.3 2469.1 L352.4 2470.9 L352.5 2472.7 L352.7 2474.5 L352.8 2476.4 L352.9 2478.2 L353.0 2480.0 L353.1 2481.8 L353.2 2483.6 L353.3 2485.5 L353.5 2487.3 L353.6 2489.1 L353.7 2490.9 L353.8 2492.7 L353.9 2494.5 L354.0 2496.4 L354.1 2498.2 L354.3 2500.0 L354.4 2501.8 L354.5 2503.6 L354.6 2505.5 L354.7 2507.3 L354.8 2509.1 L355.0 2510.9 L355.1 2512.7 L355.2 2514.5 L355.3 2516.4 L355.4 2518.2 L355.5 2520.0 L355.7 2521.8 L355.8 2523.6 L355.9 2525.5 L356.0 2527.3 L356.1 2529.1 L356.2 2530.9 L356.4 2532.7 L356.5 2534.5 L356.6 2536.4 L356.7 2538.2 L356.8 2540.0 L357.0 2541.8 L357.1 2543.6 L357.2 2545.5 L357.3 2547.3 L357.4 2549.1 L357.6 2550.9 L357.7 2552.7 L357.8 2554.5 L357.9 2556.4 L358.0 2558.2 L358.1 2560.0 L358.3 2561.8 L358.4 2563.6 L358.5 2565.5 L358.6 2567.3 L358.7 2569.1 L358.9 2570.9 L359.0 2572.7 L359.1 2574.5 L359.2 2576.4 L359.3 2578.2 L359.5 2580.0 L359.6 2581.8 L359.7 2583.6 L359.8 2585.5 L359.9 2587.3 L360.1 2589.1 L360.2 2590.9 L360.3 2592.7 L360.4 2594.5 L360.6 2596.4 L360.7 2598.2 L360.8 2600.0 L360.9 2601.8 L361.0 2603.6 L361.2 2605.5 L361.3 2607.3 L361.4 2609.1 L361.5 2610.9 L361.6 2612.7 L361.8 2614.5 L361.9 2616.4 L362.0 2618.2 L362.1 2620.0 L362.2 2621.8 L362.4 2623.6 L362.5 2625.5 L362.6 2627.3 L362.7 2629.1 L362.8 2630.9 L363.0 2632.7 L363.1 2634.5 L363.2 2636.4 L363.3 2638.2 L363.4 2640.0 L363.6 2641.8 L363.7 2643.6 L363.8 2645.5 L363.9 2647.3 L364.0 2649.1 L364.2 2650.9 L364.3 2652.7 L364.4 2654.5 L364.5 2656.4 L364.6 2658.2 L364.8 2660.0 L364.9 2661.8 L365.0 2663.6 L365.1 2665.5 L365.2 2667.3 L365.3 2669.1 L365.5 2670.9 L365.6 2672.7 L365.7 2674.5 L365.8 2676.4 L365.9 2678.2 L366.1 2680.0 L366.2 2681.8 L366.3 2683.6 L366.4 2685.5 L366.5 2687.3 L366.6 2689.1 L366.8 2690.9 L366.9 2692.7 L367.0 2694.5 L367.1 2696.4 L367.2 2698.2 L367.3 2700.0 L367.5 2701.8 L367.6 2703.6 L367.7 2705.5 L367.8 2707.3 L367.9 2709.1 L368.0 2710.9 L368.2 2712.7 L368.3 2714.5 L368.4 2716.4 L368.5 2718.2 L368.6 2720.0 L368.7 2721.8 L368.9 2723.6 L369.0 2725.5 L369.1 2727.3 L369.2 2729.1 L369.3 2730.9 L369.4 2732.7 L369.5 2734.5 L369.6 2736.4 L369.8 2738.2 L369.9 2740.0 L370.0 2741.8 L370.1 2743.6 L370.2 2745.5 L370.3 2747.3 L370.4 2749.1 L370.5 2750.9 L370.7 2752.7 L370.8 2754.5 L370.9 2756.4 L371.0 2758.2 L371.1 2760.0 L371.2 2761.8 L371.3 2763.6 L371.4 2765.5 L371.5 2767.3 L371.7 2769.1 L371.8 2770.9 L371.9 2772.7 L372.0 2774.5 L372.1 2776.4 L372.2 2778.2 L372.3 2780.0 L372.4 2781.8 L372.5 2783.6 L372.6 2785.5 L372.7 2787.3 L372.8 2789.1 L372.9 2790.9 L373.0 2792.7 L373.2 2794.5 L373.3 2796.4 L373.4 2798.2 L373.5 2800.0 L373.6 2801.8 L373.7 2803.6 L373.8 2805.5 L373.9 2807.3 L374.0 2809.1 L374.1 2810.9 L374.2 2812.7 L374.3 2814.5 L374.4 2816.4 L374.5 2818.2 L374.6 2820.0 L374.7 2821.8 L374.8 2823.6 L374.9 2825.5 L375.0 2827.3 L375.1 2829.1 L375.2 2830.9 L375.3 2832.7 L375.4 2834.5 L375.5 2836.4 L375.6 2838.2 L375.7 2840.0 L375.8 2841.8 L375.9 2843.6 L376.0 2845.5 L376.1 2847.3 L376.2 2849.1 L376.3 2850.9 L376.4 2852.7 L376.5 2854.5 L376.5 2856.4 L376.6 2858.2 L376.7 2860.0 L376.8 2861.8 L376.9 2863.6 L377.0 2865.5 L377.1 2867.3 L377.2 2869.1 L377.3 2870.9 L377.4 2872.7 L377.5 2874.5 L377.6 2876.4 L377.6 2878.2 L377.7 2880.0 L377.8 2881.8 L377.9 2883.6 L378.0 2885.5 L378.1 2887.3 L378.2 2889.1 L378.3 2890.9 L378.3 2892.7 L378.4 2894.5 L378.5 2896.4 L378.6 2898.2 L378.7 2900.0 L378.8 2901.8 L378.8 2903.6 L378.9 2905.5 L379.0 2907.3 L379.1 2909.1 L379.2 2910.9 L379.3 2912.7 L379.3 2914.5 L379.4 2916.4 L379.5 2918.2 L379.6 2920.0 L379.7 2921.8 L379.7 2923.6 L379.8 2925.5 L379.9 2927.3 L380.0 2929.1 L380.0 2930.9 L380.1 2932.7 L380.2 2934.5 L380.3 2936.4 L380.3 2938.2 L380.4 2940.0 L380.5 2941.8 L380.6 2943.6 L380.6 2945.5 L380.7 2946.4 L381.1 2957.3" stroke="#ff00ff"/>
</g></g>
</svg></body></html>
